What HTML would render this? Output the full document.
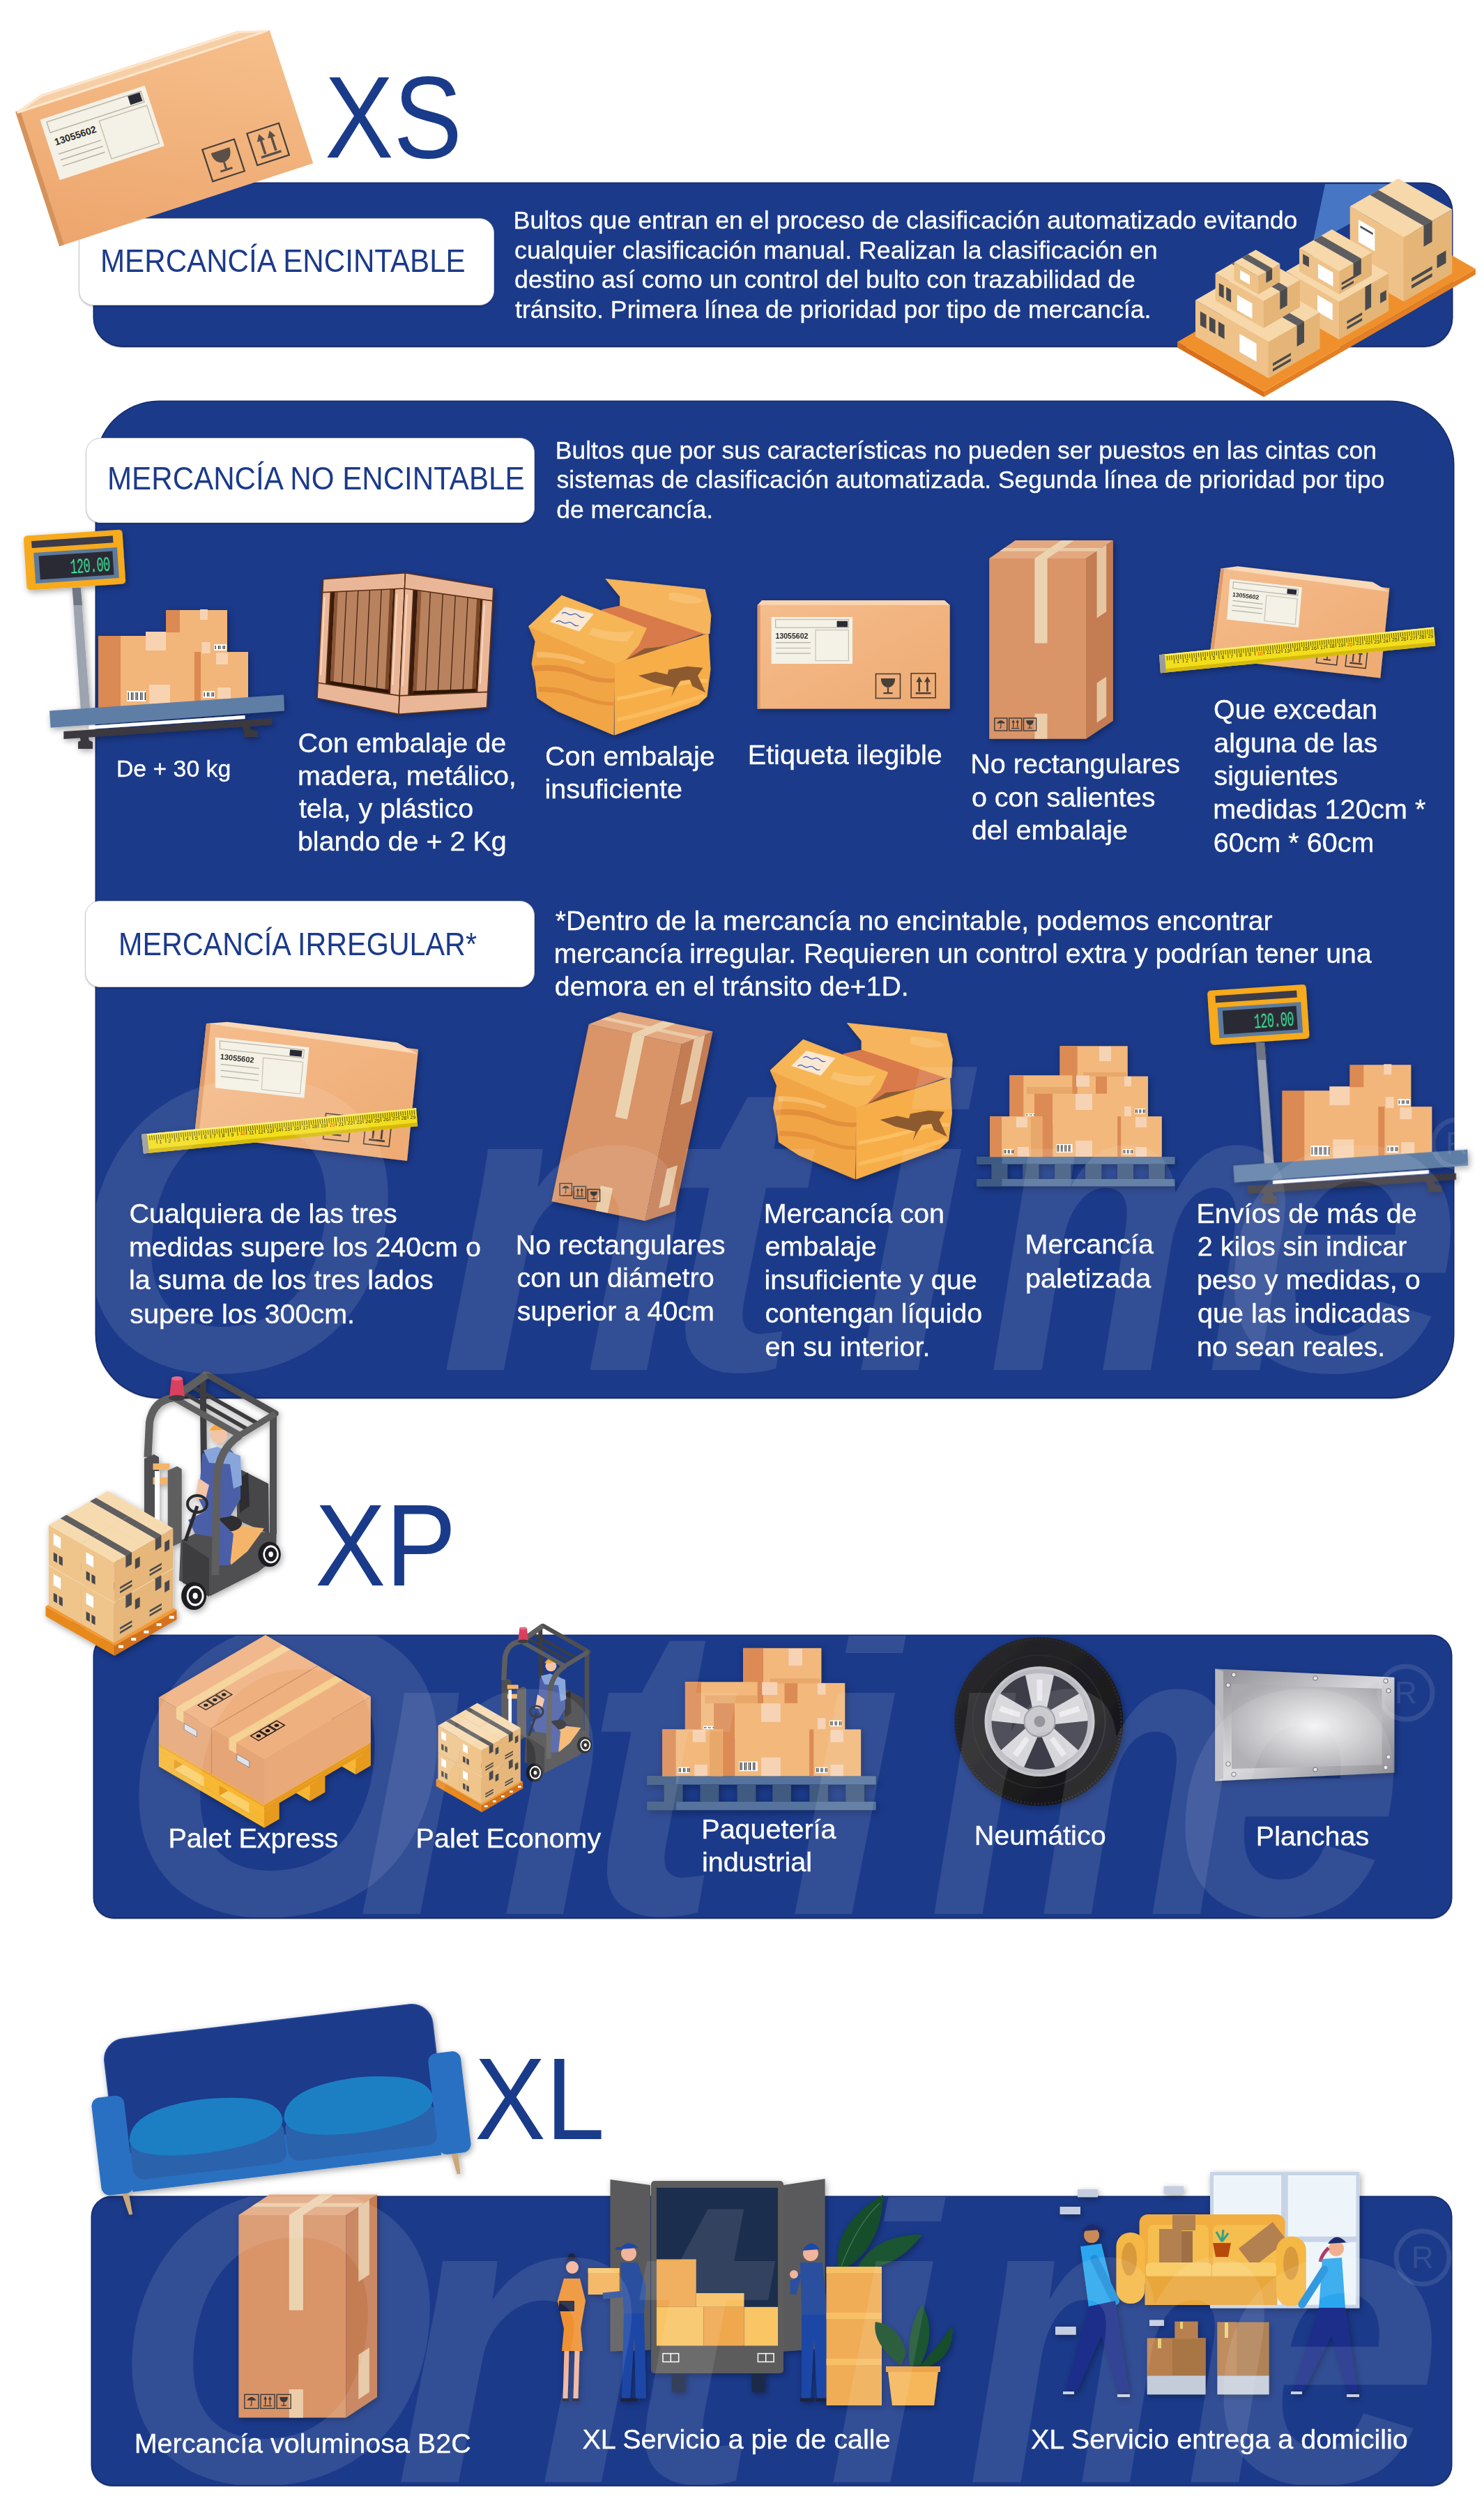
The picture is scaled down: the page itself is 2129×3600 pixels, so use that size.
<!DOCTYPE html>
<html><head><meta charset="utf-8"><style>
html,body{margin:0;padding:0;background:#fff;}
body{width:2129px;height:3600px;position:relative;overflow:hidden;font-family:"Liberation Sans",sans-serif;}
.t{position:absolute;white-space:nowrap;line-height:0;transform-origin:0 0;}
.w{-webkit-text-stroke:0.35px #fff;}
.panel{position:absolute;background:#1b3a8a;box-shadow:0 0 0 1.5px #14296a,0 1.5px 1.5px #0f1f4d;overflow:hidden}
.label{position:absolute;background:#fff;box-sizing:border-box;border:1.5px solid #c9c9c9;box-shadow:0 2px 2px rgba(0,0,0,.18)}
.a{position:absolute}
</style></head><body>
<div class="panel" style="left:135px;top:263px;width:1948px;height:233px;border-radius:40px;"></div>
<div class="panel" style="left:138px;top:576px;width:1947px;height:1428px;border-radius:90px;"></div>
<div class="panel" style="left:135px;top:2346px;width:1947px;height:404px;border-radius:28px;"></div>
<div class="panel" style="left:131.5px;top:3151px;width:1950.5px;height:413px;border-radius:28px;"></div>
<div class="label" style="left:113px;top:313px;width:596px;height:125px;border-radius:21px"></div>
<div class="label" style="left:122.6px;top:627.5px;width:644.9px;height:122.5px;border-radius:21px"></div>
<div class="label" style="left:122px;top:1292px;width:645px;height:124px;border-radius:21px"></div>
<svg class="a" style="left:0;top:0" width="2129" height="600" viewBox="0 0 2129 600">
<defs><linearGradient id="gA" x1="0" y1="1" x2="1" y2="0"><stop offset="0" stop-color="#eda56c"/><stop offset="1" stop-color="#f6bf8c"/></linearGradient></defs>
<g transform="translate(85.2,353.2) rotate(-18.1)">
<polygon points="0,-202 43,-215 339,-214 381,-200" fill="#f7cfa6"/>
<rect x="0" y="-201" width="383" height="201" fill="url(#gA)"/>
<rect x="0" y="-203" width="7" height="203" fill="#d4935d"/>
<polygon points="2,-201 43,-213 339,-212 379,-201" fill="none" stroke="#fde6cc" stroke-width="3"/>
<rect x="30" y="-181" width="158" height="91" fill="#f4f1e6"/>
<rect x="38" y="-175" width="142" height="16" fill="none" stroke="#bdb6a6" stroke-width="1.5"/>
<rect x="160" y="-174" width="18" height="13" fill="#2b2b36"/>
<rect x="110" y="-153" width="72" height="57" fill="none" stroke="#c9c2b2" stroke-width="1.5"/>
<text x="40" y="-139" font-family="Liberation Sans" font-weight="bold" font-size="14" fill="#2a2a2a">13055602</text>
<line x1="40" y1="-126" x2="104" y2="-126" stroke="#b5b0a5" stroke-width="1.5"/>
<line x1="40" y1="-117" x2="104" y2="-117" stroke="#b5b0a5" stroke-width="1.5"/>
<line x1="40" y1="-108" x2="104" y2="-108" stroke="#b5b0a5" stroke-width="1.5"/>
<rect x="238.0" y="-68.0" width="48" height="48" fill="none" stroke="#4a4038" stroke-width="2.2"/><path d="M248,-59 h28 q0,16 -14,18 q-14,-2 -14,-18z" fill="#5b5048"/><path d="M262,-41 v10 M253,-30 h18" stroke="#5b5048" stroke-width="3"/>
<rect x="306.0" y="-70.0" width="48" height="48" fill="none" stroke="#4a4038" stroke-width="2.2"/><path d="M322,-34 v-22 M338,-34 v-22 M315,-31 h30" stroke="#5b5048" stroke-width="3.5"/><path d="M316,-54 l6,-10 l6,10z M332,-54 l6,-10 l6,10z" fill="#5b5048"/>
</g>
<polygon points="1901,264 2010,264 1975,300 1883,350" fill="#4676c4"/>
<polygon points="1689.0,498.5 1813.0,569.6 1813.0,561.6 1689.0,490.5" fill="#d86f1a" /><polygon points="1813.0,569.6 2116.9,393.7 2116.9,385.7 1813.0,561.6" fill="#e57e22" /><polygon points="1689.0,490.5 1813.0,561.6 2116.9,385.7 1993.0,314.6" fill="#f0902c" />
<polygon points="1936.7,388.1 2013.9,432.4 2013.9,340.4 1936.7,296.1" fill="#eec288" /><polygon points="2013.9,432.4 2083.2,392.3 2083.2,300.3 2013.9,340.4" fill="#e4b577" /><polygon points="1936.7,296.1 2013.9,340.4 2083.2,300.3 2006.0,256.1" fill="#f6d8aa" />
<polygon points="1965.3,279.6 2042.5,323.8 2054.6,316.8 1977.4,272.6" fill="#5e5e60" /><polygon points="2042.5,323.8 2054.6,316.8 2054.6,346.8 2042.5,353.8" fill="#4b4b4d" />
<polygon points="1948.9,347.1 1972.3,360.5 1972.3,328.5 1948.9,315.1" fill="#ffffff" />
<polygon points="1951.5,323.6 1969.7,334.0 1969.7,337.0 1951.5,326.6" fill="#4a4a4c" />
<polygon points="2061.5,384.8 2074.5,377.3 2074.5,359.3 2061.5,366.8" fill="#4a4a4c" />
<polygon points="2025.1,413.9 2054.6,396.8 2054.6,391.8 2025.1,408.9" fill="#4a4a4c" />
<polygon points="2025.1,403.9 2054.6,386.8 2054.6,381.8 2025.1,398.9" fill="#4a4a4c" />
<polygon points="1844.9,443.2 1921.2,487.0 1921.2,433.0 1844.9,389.2" fill="#eec288" /><polygon points="1921.2,487.0 1992.2,445.9 1992.2,391.9 1921.2,433.0" fill="#e4b577" /><polygon points="1844.9,389.2 1921.2,433.0 1992.2,391.9 1915.9,348.2" fill="#f6d8aa" />
<polygon points="1958.5,411.4 1967.1,406.4 1967.1,440.4 1958.5,445.4" fill="#4a4a4c" />
<polygon points="1890.0,447.1 1911.7,459.5 1911.7,435.5 1890.0,423.1" fill="#ffffff" />
<polygon points="1980.1,434.9 1988.8,429.9 1988.8,415.9 1980.1,420.9" fill="#4a4a4c" />
<polygon points="1932.5,472.5 1954.1,459.9 1954.1,455.9 1932.5,468.5" fill="#4a4a4c" />
<polygon points="1932.5,464.5 1954.1,451.9 1954.1,447.9 1932.5,460.5" fill="#4a4a4c" />
<polygon points="1864.0,389.2 1921.2,422.0 1921.2,389.0 1864.0,356.2" fill="#eec288" /><polygon points="1921.2,422.0 1968.0,394.9 1968.0,361.9 1921.2,389.0" fill="#e4b577" /><polygon points="1864.0,356.2 1921.2,389.0 1968.0,361.9 1910.8,329.1" fill="#f6d8aa" />
<polygon points="1884.3,344.4 1941.6,377.2 1952.8,370.7 1895.6,337.9" fill="#5e5e60" /><polygon points="1941.6,377.2 1952.8,370.7 1952.8,392.7 1941.6,399.2" fill="#4b4b4d" />
<polygon points="1890.9,398.6 1912.5,411.0 1912.5,391.0 1890.9,378.6" fill="#ffffff" />
<polygon points="1869.2,378.2 1877.9,383.1 1877.9,369.1 1869.2,364.2" fill="#4a4a4c" />
<polygon points="1924.7,416.0 1942.0,406.0 1942.0,402.5 1924.7,412.5" fill="#4a4a4c" />
<polygon points="1924.7,409.0 1942.0,399.0 1942.0,395.5 1924.7,405.5" fill="#4a4a4c" />
<polygon points="1715.0,482.5 1819.9,542.6 1819.9,490.6 1715.0,430.5" fill="#eec288" /><polygon points="1819.9,542.6 1893.5,500.0 1893.5,448.0 1819.9,490.6" fill="#e4b577" /><polygon points="1715.0,430.5 1819.9,490.6 1893.5,448.0 1788.6,387.9" fill="#f6d8aa" />
<polygon points="1860.6,467.0 1871.0,461.0 1871.0,491.0 1860.6,497.0" fill="#4a4a4c" />
<polygon points="1827.6,448.2 1860.6,467.0 1871.0,461.0 1838.0,442.1" fill="#5e5e60" />
<polygon points="1778.3,504.7 1802.6,518.7 1802.6,492.7 1778.3,478.7" fill="#ffffff" />
<polygon points="1721.9,466.4 1730.6,471.4 1730.6,451.4 1721.9,446.4" fill="#4a4a4c" />
<polygon points="1734.9,473.9 1743.6,478.9 1743.6,458.9 1734.9,453.9" fill="#4a4a4c" />
<polygon points="1747.9,481.3 1756.6,486.3 1756.6,466.3 1747.9,461.3" fill="#4a4a4c" />
<polygon points="1826.0,533.1 1851.9,518.1 1851.9,514.1 1826.0,529.1" fill="#4a4a4c" />
<polygon points="1826.0,525.1 1851.9,510.1 1851.9,506.1 1826.0,521.1" fill="#4a4a4c" />
<polygon points="1743.6,430.9 1812.9,470.6 1812.9,431.6 1743.6,391.9" fill="#eec288" /><polygon points="1812.9,470.6 1864.9,440.6 1864.9,401.6 1812.9,431.6" fill="#e4b577" /><polygon points="1743.6,391.9 1812.9,431.6 1864.9,401.6 1795.5,361.8" fill="#f6d8aa" />
<polygon points="1767.0,378.4 1836.3,418.1 1846.7,412.1 1777.4,372.4" fill="#5e5e60" /><polygon points="1836.3,418.1 1846.7,412.1 1846.7,438.1 1836.3,444.1" fill="#4b4b4d" />
<polygon points="1774.8,444.8 1796.5,457.2 1796.5,435.2 1774.8,422.8" fill="#ffffff" />
<polygon points="1748.8,423.9 1755.7,427.8 1755.7,409.8 1748.8,405.9" fill="#4a4a4c" />
<polygon points="1759.2,429.8 1766.1,433.8 1766.1,415.8 1759.2,411.8" fill="#4a4a4c" />
<polygon points="1770.5,402.3 1805.1,422.2 1805.1,396.2 1770.5,376.3" fill="#eec288" /><polygon points="1805.1,422.2 1836.3,404.2 1836.3,378.2 1805.1,396.2" fill="#e4b577" /><polygon points="1770.5,376.3 1805.1,396.2 1836.3,378.2 1801.6,358.3" fill="#f6d8aa" />
<polygon points="1781.7,369.8 1816.4,389.7 1825.1,384.7 1790.4,364.8" fill="#5e5e60" /><polygon points="1816.4,389.7 1825.1,384.7 1825.1,400.7 1816.4,405.7" fill="#4b4b4d" />
<polygon points="1779.1,400.3 1793.0,408.2 1793.0,395.2 1779.1,387.3" fill="#ffffff" />
</svg>
<svg class="a" style="left:0;top:0" width="2129" height="2100" viewBox="0 0 2129 2100">
<defs>
<filter id="sh" x="-10%" y="-10%" width="130%" height="130%"><feGaussianBlur in="SourceAlpha" stdDeviation="5"/><feOffset dx="2" dy="3"/><feComponentTransfer><feFuncA type="linear" slope="0.35"/></feComponentTransfer><feMerge><feMergeNode/><feMergeNode in="SourceGraphic"/></feMerge></filter>
<linearGradient id="gbox" x1="0" y1="0" x2="1" y2="1"><stop offset="0" stop-color="#f5bd8d"/><stop offset="1" stop-color="#eeaa72"/></linearGradient>
<linearGradient id="gtire" x1="0" y1="0" x2="1" y2="1"><stop offset="0" stop-color="#2a2a2e"/><stop offset="1" stop-color="#121214"/></linearGradient>
</defs>
<g transform="translate(0,0)" filter="url(#sh)"><polygon points="103.6,843.0 115.7,843.0 129.2,1017.0 115.7,1017.0" fill="#9ea3b0" /><polygon points="103.6,843.0 115.7,843.0 118.0,868.0 106.0,868.0" fill="#6f7482" /><rect x="238" y="875" width="88" height="110" fill="#f2b57a"/><rect x="238" y="875" width="20" height="32" fill="#db8a52"/><rect x="141" y="912" width="145" height="104" fill="#f2b57a"/><rect x="141" y="912" width="32" height="104" fill="#db8a52"/><rect x="279" y="935" width="77" height="70" fill="#f2b57a"/><rect x="279" y="935" width="9" height="70" fill="#db8a52"/><rect x="209" y="906" width="29" height="27" fill="#f8d3b2"/><rect x="214" y="982" width="30" height="27" fill="#f8d3b2"/><rect x="287" y="874" width="11" height="15" fill="#f8d3b2"/><rect x="289.5" y="921" width="12" height="16" fill="#f8d3b2"/><rect x="310" y="936" width="17" height="17" fill="#f8d3b2"/><rect x="312" y="986" width="19" height="16" fill="#f8d3b2"/><rect x="182" y="991" width="27" height="15" fill="#fff"/><rect x="183.5" y="993" width="1.2" height="11" fill="#222"/><rect x="187.9" y="993" width="1.2" height="11" fill="#222"/><rect x="190.1" y="993" width="1.2" height="11" fill="#222"/><rect x="194.5" y="993" width="1.2" height="11" fill="#222"/><rect x="196.7" y="993" width="1.2" height="11" fill="#222"/><rect x="201.1" y="993" width="1.2" height="11" fill="#222"/><rect x="203.3" y="993" width="1.2" height="11" fill="#222"/><rect x="207.7" y="993" width="1.2" height="11" fill="#222"/><rect x="307" y="924" width="18" height="9" fill="#fff"/><rect x="308.5" y="926" width="1.2" height="5" fill="#222"/><rect x="312.9" y="926" width="1.2" height="5" fill="#222"/><rect x="315.1" y="926" width="1.2" height="5" fill="#222"/><rect x="319.5" y="926" width="1.2" height="5" fill="#222"/><rect x="321.7" y="926" width="1.2" height="5" fill="#222"/><rect x="291" y="991" width="17" height="10" fill="#fff"/><rect x="292.5" y="993" width="1.2" height="6" fill="#222"/><rect x="296.9" y="993" width="1.2" height="6" fill="#222"/><rect x="299.1" y="993" width="1.2" height="6" fill="#222"/><rect x="303.5" y="993" width="1.2" height="6" fill="#222"/><rect x="305.7" y="993" width="1.2" height="6" fill="#222"/><polygon points="71.0,1019.5 407.0,996.6 408.0,1019.5 72.6,1043.8" fill="#5e7ea6" /><polygon points="127.8,1041.0 351.5,1026.0 351.5,1031.0 127.8,1046.0" fill="#ffffff" /><polygon points="91.4,1049.0 390.6,1030.3 390.6,1039.8 91.4,1060.0" fill="#3b3841" /><polygon points="111.0,1050.0 125.0,1050.0 128.0,1062.0 133.0,1064.0 133.0,1074.0 112.0,1074.0 112.0,1064.0 116.0,1062.0" fill="#3b3841" /><polygon points="346.0,1036.0 358.0,1036.0 360.0,1046.0 370.0,1049.0 370.0,1057.0 350.0,1057.0 350.0,1049.0" fill="#3b3841" /><g transform="rotate(-3.8 108 803)"><rect x="36" y="764" width="142" height="78" rx="5" fill="#f6aa1c"/><rect x="47" y="772" width="117" height="10" fill="#3a3a48"/><rect x="49" y="789" width="120" height="44" fill="#5b7a9e"/><rect x="56" y="794" width="106" height="34" fill="#2c2c36"/><text x="0" y="0" text-anchor="end" font-family="Liberation Mono" font-size="30" fill="#3ee89b" transform="translate(157,822) scale(0.56,1)" style="letter-spacing:-1px">120.00</text></g></g>
<g filter="url(#sh)"><polygon points="463.6,830.8 581.5,821.7 572.0,1024.2 455.0,1001.5" fill="#3a1a0a" /><polygon points="480.3,848.7 564.0,844.8 556.9,993.3 473.8,980.3" fill="#b8825f" /><line x1="497.1" y1="847.9" x2="490.4" y2="982.9" stroke="#4a2412" stroke-width="1.3"/><line x1="513.8" y1="847.1" x2="507.0" y2="985.5" stroke="#4a2412" stroke-width="1.3"/><line x1="530.5" y1="846.4" x2="523.7" y2="988.1" stroke="#4a2412" stroke-width="1.3"/><line x1="547.2" y1="845.6" x2="540.3" y2="990.7" stroke="#4a2412" stroke-width="1.3"/><polygon points="480.3,848.7 485.0,848.5 478.5,981.1 473.8,980.3" fill="#8a5634" /><polygon points="559.3,845.0 564.0,844.8 556.9,993.3 552.2,992.6" fill="#7a4626" /><polygon points="473.9,976.8 557.1,989.3 556.8,995.3 473.7,982.1" fill="#2a1206" /><polygon points="462.7,847.9 474.5,847.3 467.7,982.9 456.0,981.0" fill="#e9b797" stroke="#5b2d17" stroke-width="1.6" stroke-linejoin="round"/><polygon points="566.4,842.7 580.6,842.0 573.1,999.9 559.1,997.6" fill="#e9b797" stroke="#5b2d17" stroke-width="1.6" stroke-linejoin="round"/><polygon points="463.6,830.8 581.5,821.7 580.5,844.0 462.7,849.6" fill="#e9b797" stroke="#5b2d17" stroke-width="1.6" stroke-linejoin="round"/><polygon points="456.1,979.3 573.2,997.9 572.0,1024.2 455.0,1001.5" fill="#e9b797" stroke="#5b2d17" stroke-width="1.6" stroke-linejoin="round"/><line x1="465.8" y1="856.3" x2="460.2" y2="967.9" stroke="#fbe0cc" stroke-width="1.5"/><line x1="569.5" y1="852.5" x2="563.4" y2="982.2" stroke="#fbe0cc" stroke-width="1.5"/><polygon points="581.5,821.7 707.9,843.0 698.5,1014.7 572.0,1024.2" fill="#3a1a0a" /><polygon points="599.4,846.7 689.2,859.4 682.1,991.4 592.3,995.1" fill="#b8825f" /><line x1="617.4" y1="849.2" x2="610.3" y2="994.3" stroke="#4a2412" stroke-width="1.3"/><line x1="635.3" y1="851.7" x2="628.2" y2="993.6" stroke="#4a2412" stroke-width="1.3"/><line x1="653.3" y1="854.3" x2="646.2" y2="992.9" stroke="#4a2412" stroke-width="1.3"/><line x1="671.2" y1="856.8" x2="664.1" y2="992.1" stroke="#4a2412" stroke-width="1.3"/><polygon points="599.4,846.7 604.5,847.4 597.4,994.9 592.3,995.1" fill="#8a5634" /><polygon points="684.1,858.7 689.2,859.4 682.1,991.4 677.0,991.6" fill="#7a4626" /><polygon points="592.5,991.1 682.3,987.9 682.0,993.1 592.2,997.1" fill="#2a1206" /><polygon points="580.6,842.0 593.2,843.8 585.8,999.3 573.1,999.9" fill="#e9b797" stroke="#5b2d17" stroke-width="1.6" stroke-linejoin="round"/><polygon points="691.8,858.0 707.0,860.2 699.6,994.1 684.4,994.8" fill="#e9b797" stroke="#5b2d17" stroke-width="1.6" stroke-linejoin="round"/><polygon points="581.5,821.7 707.9,843.0 706.9,861.9 580.5,844.0" fill="#e9b797" stroke="#5b2d17" stroke-width="1.6" stroke-linejoin="round"/><polygon points="573.2,997.9 699.7,992.4 698.5,1014.7 572.0,1024.2" fill="#e9b797" stroke="#5b2d17" stroke-width="1.6" stroke-linejoin="round"/><line x1="583.9" y1="852.6" x2="577.7" y2="983.6" stroke="#fbe0cc" stroke-width="1.5"/><line x1="695.1" y1="867.3" x2="689.0" y2="980.7" stroke="#fbe0cc" stroke-width="1.5"/></g>
<g transform="translate(0,0)" filter="url(#sh)"><polygon points="868.9,830.4 1011.3,845.5 1019.8,882.3 1017.9,908.7 938.7,912.0 889.6,869.0 889.6,855.8" fill="#f6b55c" stroke="#f6b55c" stroke-linejoin="round" stroke-width="0.8"/><path d="M960,850 q30,0 50,12 q-20,8 -50,-2z" fill="#f9c67a" opacity="0.7"/><polygon points="863.2,874.7 889.6,869.0 1008.5,908.7 938.7,933.2 897.2,946.4" fill="#d97a4b" stroke="#d97a4b" stroke-linejoin="round" stroke-width="0.8"/><polygon points="900.0,945.0 925.0,930.0 945.0,928.0 960.0,925.0 905.0,950.0" fill="#8a5a30" /><polygon points="758.5,898.3 882.0,952.0 880.2,1054.0 800.0,1020.0 770.8,1001.0 768.0,975.0 763.0,952.0 768.0,920.0" fill="#f2a545" stroke="#f2a545" stroke-linejoin="round" stroke-width="0.8"/><polygon points="882.0,952.0 1016.0,908.7 1019.0,960.0 1014.0,999.0 1002.0,1010.0 882.0,1054.0" fill="#f7ae4a" stroke="#f7ae4a" stroke-linejoin="round" stroke-width="0.8"/><path d="M766,955 q40,-5 70,10 q25,10 46,8 l0,6 q-25,2 -48,-8 q-30,-12 -68,-8z" fill="#e08a38" opacity="0.8"/><path d="M772,985 q40,0 62,12 q25,10 48,10 l0,5 q-25,0 -50,-10 q-25,-10 -60,-10z" fill="#e08a38" opacity="0.7"/><path d="M770,935 q40,0 70,14 l-4,4 q-35,-12 -66,-10z" fill="#f8c070" opacity="0.8"/><path d="M885,1000 q50,-10 90,-22 q25,-6 40,-4 l0,5 q-20,-1 -45,6 q-40,12 -85,20z" fill="#fbc46a" opacity="0.8"/><path d="M885,1030 q60,-15 125,-35 l2,5 q-60,22 -127,35z" fill="#fbc46a" opacity="0.6"/><polygon points="758.5,898.3 805.7,854.0 927.4,901.1 916.0,925.7 897.2,946.4 882.0,952.0" fill="#f6b657" stroke="#f6b657" stroke-linejoin="round" stroke-width="0.8"/><path d="M850,900 q30,10 60,5 l-10,15 q-30,0 -55,-10z" fill="#f9c77a" opacity="0.7"/><polygon points="916.0,969.0 940.6,963.4 957.5,967.2 959.4,960.6 985.8,955.8 1008.5,957.7 1001.0,969.0 1012.3,993.6 993.4,984.2 989.6,974.7 976.4,976.6 968.9,987.9 963.2,999.2 967.0,986.0 936.8,978.5" fill="#8c5a2e" /><polygon points="788.7,891.7 810.4,870.0 851.9,880.4 831.1,905.8" fill="#fbe8d2" /><path d="M806,880 q4,-3 8,0 t8,1 t8,2 t8,2 M798,892 q4,-3 8,0 t8,1 t8,2 t8,2" fill="none" stroke="#3b63b8" stroke-width="1.3"/></g>
<g filter="url(#sh)"><polygon points="1093.0,861.0 1355.0,861.0 1362.7,868.0 1086.7,868.0" fill="#f8d5b0" /><rect x="1086.7" y="867.8" width="276" height="148.8" fill="url(#gbox)"/><rect x="1086.7" y="867.8" width="4" height="148.8" fill="#dd9a66"/><rect x="1106.6" y="885" width="116.4" height="67" fill="#f4f1e6"/><rect x="1112.6" y="888.5" width="104.8" height="11.6" fill="none" stroke="#bdb6a6" stroke-width="1.2"/><rect x="1200.6" y="890.7" width="15.4" height="8.6" fill="#2b2b36"/><rect x="1170" y="903.6" width="47.4" height="44" fill="none" stroke="#c9c2b2" stroke-width="1.2"/><text x="1112.6" y="915.5" font-family="Liberation Sans" font-weight="bold" font-size="10.5" fill="#2a2a2a">13055602</text><line x1="1113" y1="921.7" x2="1163" y2="921.7" stroke="#b5b0a5" stroke-width="1.2"/><line x1="1113" y1="929.5" x2="1163" y2="929.5" stroke="#b5b0a5" stroke-width="1.2"/><line x1="1113" y1="937.2" x2="1163" y2="937.2" stroke="#b5b0a5" stroke-width="1.2"/><g transform="translate(1274,984) scale(0.7291666666666666)"><rect x="-24" y="-24" width="48" height="48" fill="none" stroke="#4a4038" stroke-width="2.19"/><path d="M-14,-15 h28 q0,16 -14,18 q-14,-2 -14,-18z" fill="#4a4038"/><path d="M0,3 v10 M-9,14 h18" stroke="#4a4038" stroke-width="3"/></g><g transform="translate(1324.6,983.3) scale(0.7291666666666666)"><rect x="-24" y="-24" width="48" height="48" fill="none" stroke="#4a4038" stroke-width="2.19"/><path d="M-8,12 v-20 M8,12 v-20 M-15,15 h30" stroke="#4a4038" stroke-width="3.5"/><path d="M-14,-7 l6,-11 l6,11z M2,-7 l6,-11 l6,11z" fill="#4a4038"/></g></g>
<g filter="url(#sh)"><polygon points="1419.2,801.0 1558.0,801.0 1558.0,1059.7 1419.2,1059.7" fill="#d99468" /><polygon points="1558.0,801.0 1596.9,775.1 1596.9,1033.8 1558.0,1059.7" fill="#c47b52" /><polygon points="1456.7,775.1 1596.9,775.1 1558.0,801.0 1419.2,801.0" fill="#e3a880" /><polygon points="1484.4,801.0 1502.5,801.0 1502.5,922.6 1484.4,922.6" fill="#ecd3b0" /><polygon points="1484.4,1023.5 1502.5,1023.5 1502.5,1059.7 1484.4,1059.7" fill="#ecd3b0" opacity="0.9"/><polygon points="1522.6,775.1 1540.8,775.1 1502.5,801.0 1484.4,801.0" fill="#ecd3b0" /><polygon points="1441.0,786.0 1580.6,786.0 1573.6,790.6 1434.2,790.6" fill="#ecd3b0" opacity="0.8"/><polygon points="1573.6,790.6 1587.2,781.6 1587.2,877.3 1573.6,886.4" fill="#ecd3b0" opacity="0.85"/><polygon points="1573.6,979.5 1587.2,970.4 1587.2,1027.3 1573.6,1036.4" fill="#ecd3b0" opacity="0.85"/><g transform="translate(1435.856,1039.0040000000001) scale(0.3759166666666665)"><rect x="-24" y="-24" width="48" height="48" fill="none" stroke="#3a3a3a" stroke-width="3.72"/><path d="M-16,-4 q16,-22 32,0z" fill="#3a3a3a"/><path d="M0,-4 v14 q0,5 -5,3" fill="none" stroke="#3a3a3a" stroke-width="3"/></g><g transform="translate(1456.6760000000002,1039.0040000000001) scale(0.3759166666666665)"><rect x="-24" y="-24" width="48" height="48" fill="none" stroke="#3a3a3a" stroke-width="3.72"/><path d="M-8,12 v-20 M8,12 v-20 M-15,15 h30" stroke="#3a3a3a" stroke-width="3.5"/><path d="M-14,-7 l6,-11 l6,11z M2,-7 l6,-11 l6,11z" fill="#3a3a3a"/></g><g transform="translate(1477.496,1039.0040000000001) scale(0.3759166666666665)"><rect x="-24" y="-24" width="48" height="48" fill="none" stroke="#3a3a3a" stroke-width="3.72"/><path d="M-14,-15 h28 q0,16 -14,18 q-14,-2 -14,-18z" fill="#3a3a3a"/><path d="M0,3 v10 M-9,14 h18" stroke="#3a3a3a" stroke-width="3"/></g></g>
<g filter="url(#sh)"><polygon points="1751.4,815.5 1993.4,843.6 1980.3,972.6 1735.0,944.0" fill="url(#gbox)" /><polygon points="1751.4,815.5 1775.6,812.3 1969.2,834.8 1992.9,848.8" fill="#f9d9b8" /><polygon points="1751.4,815.5 1756.2,816.1 1739.9,944.6 1735.0,944.0" fill="#dc9a67" /><polygon points="1764.5,830.6 1867.9,842.2 1863.0,900.1 1760.1,888.5" fill="#f4f1e6" /><polygon points="1769.4,834.7 1862.4,845.1 1861.7,854.4 1768.7,843.9" fill="none" stroke="#bdb6a6" stroke-width="1.2"/><polygon points="1846.8,844.5 1860.3,846.0 1859.7,853.0 1846.3,851.5" fill="#2b2b36" /><polygon points="1816.9,854.0 1861.3,859.0 1858.2,895.5 1813.9,890.5" fill="none" stroke="#c9c2b2" stroke-width="1.2"/><line x1="1768.4" y1="861.4" x2="1811.7" y2="866.3" stroke="#b5b0a5" stroke-width="1.2"/><line x1="1767.9" y1="868.4" x2="1811.2" y2="873.2" stroke="#b5b0a5" stroke-width="1.2"/><line x1="1767.3" y1="875.3" x2="1810.6" y2="880.2" stroke="#b5b0a5" stroke-width="1.2"/><text x="0" y="0" transform="translate(1767.8,855.5) rotate(6.41)" font-family="Liberation Sans" font-weight="bold" font-size="8.6" fill="#2a2a2a">13055602</text><g transform="rotate(6.4 1904.6 937.7)"><g transform="translate(1904.6352000000002,937.6800000000001) scale(0.6090649082815394)"><rect x="-24" y="-24" width="48" height="48" fill="none" stroke="#4a4038" stroke-width="2.63"/><path d="M-14,-15 h28 q0,16 -14,18 q-14,-2 -14,-18z" fill="#4a4038"/><path d="M0,3 v10 M-9,14 h18" stroke="#4a4038" stroke-width="3"/></g></g><g transform="rotate(6.4 1946.2 942.5)"><g transform="translate(1946.2240000000002,942.5250000000001) scale(0.6090649082815394)"><rect x="-24" y="-24" width="48" height="48" fill="none" stroke="#4a4038" stroke-width="2.63"/><path d="M-8,12 v-20 M8,12 v-20 M-15,15 h30" stroke="#4a4038" stroke-width="3.5"/><path d="M-14,-7 l6,-11 l6,11z M2,-7 l6,-11 l6,11z" fill="#4a4038"/></g></g><polygon points="1663.0,939.2 2057.1,899.5 2059.2,926.2 1665.0,965.3" fill="#f2de1e" /><polygon points="1664.6,960.1 2058.8,920.9 2059.2,926.2 1665.0,965.3" fill="#d6b90d" /><polygon points="1663.0,939.2 2057.1,899.5 2057.3,901.6 1663.2,941.3" fill="#fff27a" /><polygon points="1663.0,939.2 1670.9,938.4 1672.9,964.5 1665.0,965.3" fill="#9a9a9a" /><line x1="1674.3" y1="940.7" x2="1674.8" y2="947.2" stroke="#3a3200" stroke-width="0.8"/><line x1="1677.5" y1="940.4" x2="1678.0" y2="946.9" stroke="#3a3200" stroke-width="0.8"/><line x1="1680.7" y1="940.0" x2="1681.2" y2="946.6" stroke="#3a3200" stroke-width="0.8"/><line x1="1684.0" y1="939.7" x2="1684.9" y2="951.5" stroke="#3a3200" stroke-width="0.8"/><line x1="1687.2" y1="939.4" x2="1687.7" y2="945.9" stroke="#3a3200" stroke-width="0.8"/><line x1="1690.4" y1="939.1" x2="1690.9" y2="945.6" stroke="#3a3200" stroke-width="0.8"/><line x1="1693.6" y1="938.8" x2="1694.1" y2="945.3" stroke="#3a3200" stroke-width="0.8"/><line x1="1696.8" y1="938.4" x2="1697.7" y2="950.2" stroke="#3a3200" stroke-width="0.8"/><line x1="1700.0" y1="938.1" x2="1700.6" y2="944.6" stroke="#3a3200" stroke-width="0.8"/><line x1="1703.3" y1="937.8" x2="1703.8" y2="944.3" stroke="#3a3200" stroke-width="0.8"/><line x1="1706.5" y1="937.5" x2="1707.0" y2="944.0" stroke="#3a3200" stroke-width="0.8"/><line x1="1709.7" y1="937.1" x2="1710.6" y2="948.9" stroke="#3a3200" stroke-width="0.8"/><line x1="1712.9" y1="936.8" x2="1713.4" y2="943.4" stroke="#3a3200" stroke-width="0.8"/><line x1="1716.1" y1="936.5" x2="1716.6" y2="943.0" stroke="#3a3200" stroke-width="0.8"/><line x1="1719.4" y1="936.2" x2="1719.9" y2="942.7" stroke="#3a3200" stroke-width="0.8"/><line x1="1722.6" y1="935.8" x2="1723.5" y2="947.6" stroke="#3a3200" stroke-width="0.8"/><line x1="1725.8" y1="935.5" x2="1726.3" y2="942.1" stroke="#3a3200" stroke-width="0.8"/><line x1="1729.0" y1="935.2" x2="1729.5" y2="941.7" stroke="#3a3200" stroke-width="0.8"/><line x1="1732.2" y1="934.9" x2="1732.7" y2="941.4" stroke="#3a3200" stroke-width="0.8"/><line x1="1735.5" y1="934.5" x2="1736.4" y2="946.3" stroke="#3a3200" stroke-width="0.8"/><line x1="1738.7" y1="934.2" x2="1739.2" y2="940.8" stroke="#3a3200" stroke-width="0.8"/><line x1="1741.9" y1="933.9" x2="1742.4" y2="940.5" stroke="#3a3200" stroke-width="0.8"/><line x1="1745.1" y1="933.6" x2="1745.6" y2="940.1" stroke="#3a3200" stroke-width="0.8"/><line x1="1748.3" y1="933.2" x2="1749.2" y2="945.1" stroke="#3a3200" stroke-width="0.8"/><line x1="1751.5" y1="932.9" x2="1752.1" y2="939.5" stroke="#3a3200" stroke-width="0.8"/><line x1="1754.8" y1="932.6" x2="1755.3" y2="939.2" stroke="#3a3200" stroke-width="0.8"/><line x1="1758.0" y1="932.3" x2="1758.5" y2="938.8" stroke="#3a3200" stroke-width="0.8"/><line x1="1761.2" y1="932.0" x2="1762.1" y2="943.8" stroke="#3a3200" stroke-width="0.8"/><line x1="1764.4" y1="931.6" x2="1764.9" y2="938.2" stroke="#3a3200" stroke-width="0.8"/><line x1="1767.6" y1="931.3" x2="1768.1" y2="937.9" stroke="#3a3200" stroke-width="0.8"/><line x1="1770.9" y1="931.0" x2="1771.4" y2="937.5" stroke="#3a3200" stroke-width="0.8"/><line x1="1774.1" y1="930.7" x2="1775.0" y2="942.5" stroke="#3a3200" stroke-width="0.8"/><line x1="1777.3" y1="930.3" x2="1777.8" y2="936.9" stroke="#3a3200" stroke-width="0.8"/><line x1="1780.5" y1="930.0" x2="1781.0" y2="936.6" stroke="#3a3200" stroke-width="0.8"/><line x1="1783.7" y1="929.7" x2="1784.2" y2="936.3" stroke="#3a3200" stroke-width="0.8"/><line x1="1787.0" y1="929.4" x2="1787.9" y2="941.2" stroke="#3a3200" stroke-width="0.8"/><line x1="1790.2" y1="929.0" x2="1790.7" y2="935.6" stroke="#3a3200" stroke-width="0.8"/><line x1="1793.4" y1="928.7" x2="1793.9" y2="935.3" stroke="#3a3200" stroke-width="0.8"/><line x1="1796.6" y1="928.4" x2="1797.1" y2="935.0" stroke="#3a3200" stroke-width="0.8"/><line x1="1799.8" y1="928.1" x2="1800.7" y2="939.9" stroke="#3a3200" stroke-width="0.8"/><line x1="1803.0" y1="927.7" x2="1803.6" y2="934.3" stroke="#3a3200" stroke-width="0.8"/><line x1="1806.3" y1="927.4" x2="1806.8" y2="934.0" stroke="#3a3200" stroke-width="0.8"/><line x1="1809.5" y1="927.1" x2="1810.0" y2="933.7" stroke="#3a3200" stroke-width="0.8"/><line x1="1812.7" y1="926.8" x2="1813.6" y2="938.6" stroke="#3a3200" stroke-width="0.8"/><line x1="1815.9" y1="926.4" x2="1816.4" y2="933.0" stroke="#3a3200" stroke-width="0.8"/><line x1="1819.1" y1="926.1" x2="1819.6" y2="932.7" stroke="#3a3200" stroke-width="0.8"/><line x1="1822.4" y1="925.8" x2="1822.9" y2="932.4" stroke="#3a3200" stroke-width="0.8"/><line x1="1825.6" y1="925.5" x2="1826.5" y2="937.3" stroke="#3a3200" stroke-width="0.8"/><line x1="1828.8" y1="925.2" x2="1829.3" y2="931.7" stroke="#3a3200" stroke-width="0.8"/><line x1="1832.0" y1="924.8" x2="1832.5" y2="931.4" stroke="#3a3200" stroke-width="0.8"/><line x1="1835.2" y1="924.5" x2="1835.7" y2="931.1" stroke="#3a3200" stroke-width="0.8"/><line x1="1838.4" y1="924.2" x2="1839.4" y2="936.0" stroke="#3a3200" stroke-width="0.8"/><line x1="1841.7" y1="923.9" x2="1842.2" y2="930.5" stroke="#3a3200" stroke-width="0.8"/><line x1="1844.9" y1="923.5" x2="1845.4" y2="930.1" stroke="#3a3200" stroke-width="0.8"/><line x1="1848.1" y1="923.2" x2="1848.6" y2="929.8" stroke="#3a3200" stroke-width="0.8"/><line x1="1851.3" y1="922.9" x2="1852.2" y2="934.8" stroke="#3a3200" stroke-width="0.8"/><line x1="1854.5" y1="922.6" x2="1855.1" y2="929.2" stroke="#3a3200" stroke-width="0.8"/><line x1="1857.8" y1="922.2" x2="1858.3" y2="928.8" stroke="#3a3200" stroke-width="0.8"/><line x1="1861.0" y1="921.9" x2="1861.5" y2="928.5" stroke="#3a3200" stroke-width="0.8"/><line x1="1864.2" y1="921.6" x2="1865.1" y2="933.5" stroke="#3a3200" stroke-width="0.8"/><line x1="1867.4" y1="921.3" x2="1867.9" y2="927.9" stroke="#3a3200" stroke-width="0.8"/><line x1="1870.6" y1="920.9" x2="1871.1" y2="927.6" stroke="#3a3200" stroke-width="0.8"/><line x1="1873.9" y1="920.6" x2="1874.4" y2="927.2" stroke="#3a3200" stroke-width="0.8"/><line x1="1877.1" y1="920.3" x2="1878.0" y2="932.2" stroke="#3a3200" stroke-width="0.8"/><line x1="1880.3" y1="920.0" x2="1880.8" y2="926.6" stroke="#3a3200" stroke-width="0.8"/><line x1="1883.5" y1="919.7" x2="1884.0" y2="926.3" stroke="#3a3200" stroke-width="0.8"/><line x1="1886.7" y1="919.3" x2="1887.2" y2="925.9" stroke="#3a3200" stroke-width="0.8"/><line x1="1889.9" y1="919.0" x2="1890.9" y2="930.9" stroke="#3a3200" stroke-width="0.8"/><line x1="1893.2" y1="918.7" x2="1893.7" y2="925.3" stroke="#3a3200" stroke-width="0.8"/><line x1="1896.4" y1="918.4" x2="1896.9" y2="925.0" stroke="#3a3200" stroke-width="0.8"/><line x1="1899.6" y1="918.0" x2="1900.1" y2="924.6" stroke="#3a3200" stroke-width="0.8"/><line x1="1902.8" y1="917.7" x2="1903.7" y2="929.6" stroke="#3a3200" stroke-width="0.8"/><line x1="1906.0" y1="917.4" x2="1906.6" y2="924.0" stroke="#3a3200" stroke-width="0.8"/><line x1="1909.3" y1="917.1" x2="1909.8" y2="923.7" stroke="#3a3200" stroke-width="0.8"/><line x1="1912.5" y1="916.7" x2="1913.0" y2="923.4" stroke="#3a3200" stroke-width="0.8"/><line x1="1915.7" y1="916.4" x2="1916.6" y2="928.3" stroke="#3a3200" stroke-width="0.8"/><line x1="1918.9" y1="916.1" x2="1919.4" y2="922.7" stroke="#3a3200" stroke-width="0.8"/><line x1="1922.1" y1="915.8" x2="1922.6" y2="922.4" stroke="#3a3200" stroke-width="0.8"/><line x1="1925.3" y1="915.4" x2="1925.9" y2="922.1" stroke="#3a3200" stroke-width="0.8"/><line x1="1928.6" y1="915.1" x2="1929.5" y2="927.0" stroke="#3a3200" stroke-width="0.8"/><line x1="1931.8" y1="914.8" x2="1932.3" y2="921.4" stroke="#3a3200" stroke-width="0.8"/><line x1="1935.0" y1="914.5" x2="1935.5" y2="921.1" stroke="#3a3200" stroke-width="0.8"/><line x1="1938.2" y1="914.1" x2="1938.7" y2="920.8" stroke="#3a3200" stroke-width="0.8"/><line x1="1941.4" y1="913.8" x2="1942.4" y2="925.8" stroke="#3a3200" stroke-width="0.8"/><line x1="1944.7" y1="913.5" x2="1945.2" y2="920.1" stroke="#3a3200" stroke-width="0.8"/><line x1="1947.9" y1="913.2" x2="1948.4" y2="919.8" stroke="#3a3200" stroke-width="0.8"/><line x1="1951.1" y1="912.9" x2="1951.6" y2="919.5" stroke="#3a3200" stroke-width="0.8"/><line x1="1954.3" y1="912.5" x2="1955.2" y2="924.5" stroke="#3a3200" stroke-width="0.8"/><line x1="1957.5" y1="912.2" x2="1958.1" y2="918.8" stroke="#3a3200" stroke-width="0.8"/><line x1="1960.8" y1="911.9" x2="1961.3" y2="918.5" stroke="#3a3200" stroke-width="0.8"/><line x1="1964.0" y1="911.6" x2="1964.5" y2="918.2" stroke="#3a3200" stroke-width="0.8"/><line x1="1967.2" y1="911.2" x2="1968.1" y2="923.2" stroke="#3a3200" stroke-width="0.8"/><line x1="1970.4" y1="910.9" x2="1970.9" y2="917.6" stroke="#3a3200" stroke-width="0.8"/><line x1="1973.6" y1="910.6" x2="1974.1" y2="917.2" stroke="#3a3200" stroke-width="0.8"/><line x1="1976.8" y1="910.3" x2="1977.4" y2="916.9" stroke="#3a3200" stroke-width="0.8"/><line x1="1980.1" y1="909.9" x2="1981.0" y2="921.9" stroke="#3a3200" stroke-width="0.8"/><line x1="1983.3" y1="909.6" x2="1983.8" y2="916.3" stroke="#3a3200" stroke-width="0.8"/><line x1="1986.5" y1="909.3" x2="1987.0" y2="915.9" stroke="#3a3200" stroke-width="0.8"/><line x1="1989.7" y1="909.0" x2="1990.2" y2="915.6" stroke="#3a3200" stroke-width="0.8"/><line x1="1992.9" y1="908.6" x2="1993.9" y2="920.6" stroke="#3a3200" stroke-width="0.8"/><line x1="1996.2" y1="908.3" x2="1996.7" y2="915.0" stroke="#3a3200" stroke-width="0.8"/><line x1="1999.4" y1="908.0" x2="1999.9" y2="914.7" stroke="#3a3200" stroke-width="0.8"/><line x1="2002.6" y1="907.7" x2="2003.1" y2="914.3" stroke="#3a3200" stroke-width="0.8"/><line x1="2005.8" y1="907.3" x2="2006.8" y2="919.3" stroke="#3a3200" stroke-width="0.8"/><line x1="2009.0" y1="907.0" x2="2009.6" y2="913.7" stroke="#3a3200" stroke-width="0.8"/><line x1="2012.3" y1="906.7" x2="2012.8" y2="913.4" stroke="#3a3200" stroke-width="0.8"/><line x1="2015.5" y1="906.4" x2="2016.0" y2="913.0" stroke="#3a3200" stroke-width="0.8"/><line x1="2018.7" y1="906.1" x2="2019.6" y2="918.0" stroke="#3a3200" stroke-width="0.8"/><line x1="2021.9" y1="905.7" x2="2022.4" y2="912.4" stroke="#3a3200" stroke-width="0.8"/><line x1="2025.1" y1="905.4" x2="2025.6" y2="912.1" stroke="#3a3200" stroke-width="0.8"/><line x1="2028.3" y1="905.1" x2="2028.9" y2="911.7" stroke="#3a3200" stroke-width="0.8"/><line x1="2031.6" y1="904.8" x2="2032.5" y2="916.8" stroke="#3a3200" stroke-width="0.8"/><line x1="2034.8" y1="904.4" x2="2035.3" y2="911.1" stroke="#3a3200" stroke-width="0.8"/><line x1="2038.0" y1="904.1" x2="2038.5" y2="910.8" stroke="#3a3200" stroke-width="0.8"/><line x1="2041.2" y1="903.8" x2="2041.7" y2="910.5" stroke="#3a3200" stroke-width="0.8"/><line x1="2044.4" y1="903.5" x2="2045.4" y2="915.5" stroke="#3a3200" stroke-width="0.8"/><line x1="2047.7" y1="903.1" x2="2048.2" y2="909.8" stroke="#3a3200" stroke-width="0.8"/><line x1="2050.9" y1="902.8" x2="2051.4" y2="909.5" stroke="#3a3200" stroke-width="0.8"/><line x1="2054.1" y1="902.5" x2="2054.6" y2="909.2" stroke="#3a3200" stroke-width="0.8"/><text x="1688.0" y="951.2" font-family="Liberation Sans" font-size="7" fill="#3a3200">1</text><text x="1700.9" y="949.9" font-family="Liberation Sans" font-size="7" fill="#3a3200">2</text><text x="1713.8" y="948.6" font-family="Liberation Sans" font-size="7" fill="#3a3200">3</text><text x="1726.6" y="947.3" font-family="Liberation Sans" font-size="7" fill="#3a3200">4</text><text x="1739.5" y="946.0" font-family="Liberation Sans" font-size="7" fill="#3a3200">5</text><text x="1752.4" y="944.7" font-family="Liberation Sans" font-size="7" fill="#3a3200">6</text><text x="1765.3" y="943.5" font-family="Liberation Sans" font-size="7" fill="#3a3200">7</text><text x="1778.1" y="942.2" font-family="Liberation Sans" font-size="7" fill="#3a3200">8</text><text x="1791.0" y="940.9" font-family="Liberation Sans" font-size="7" fill="#3a3200">9</text><text x="1803.9" y="939.6" font-family="Liberation Sans" font-size="7" fill="#e2301a">10</text><text x="1816.8" y="938.3" font-family="Liberation Sans" font-size="7" fill="#3a3200">11</text><text x="1829.6" y="937.0" font-family="Liberation Sans" font-size="7" fill="#3a3200">12</text><text x="1842.5" y="935.7" font-family="Liberation Sans" font-size="7" fill="#3a3200">13</text><text x="1855.4" y="934.4" font-family="Liberation Sans" font-size="7" fill="#3a3200">14</text><text x="1868.3" y="933.2" font-family="Liberation Sans" font-size="7" fill="#3a3200">15</text><text x="1881.1" y="931.9" font-family="Liberation Sans" font-size="7" fill="#3a3200">16</text><text x="1894.0" y="930.6" font-family="Liberation Sans" font-size="7" fill="#3a3200">17</text><text x="1906.9" y="929.3" font-family="Liberation Sans" font-size="7" fill="#3a3200">18</text><text x="1919.8" y="928.0" font-family="Liberation Sans" font-size="7" fill="#3a3200">19</text><text x="1932.7" y="926.7" font-family="Liberation Sans" font-size="7" fill="#e2301a">20</text><text x="1945.5" y="925.4" font-family="Liberation Sans" font-size="7" fill="#3a3200">21</text><text x="1958.4" y="924.2" font-family="Liberation Sans" font-size="7" fill="#3a3200">22</text><text x="1971.3" y="922.9" font-family="Liberation Sans" font-size="7" fill="#3a3200">23</text><text x="1984.2" y="921.6" font-family="Liberation Sans" font-size="7" fill="#3a3200">24</text><text x="1997.0" y="920.3" font-family="Liberation Sans" font-size="7" fill="#3a3200">25</text><text x="2009.9" y="919.0" font-family="Liberation Sans" font-size="7" fill="#3a3200">26</text><text x="2022.8" y="917.7" font-family="Liberation Sans" font-size="7" fill="#3a3200">27</text><text x="2035.7" y="916.4" font-family="Liberation Sans" font-size="7" fill="#3a3200">28</text><text x="2048.5" y="915.2" font-family="Liberation Sans" font-size="7" fill="#3a3200">29</text></g>
</svg>
<svg class="a" style="left:0;top:0" width="2129" height="2100" viewBox="0 0 2129 2100">
<g filter="url(#sh)"><polygon points="296.0,1468.0 600.0,1505.0 584.0,1665.0 279.0,1628.0" fill="url(#gbox)" /><polygon points="296.0,1468.0 326.4,1465.7 569.6,1495.3 599.4,1511.4" fill="#f9d9b8" /><polygon points="296.0,1468.0 302.1,1468.7 285.1,1628.7 279.0,1628.0" fill="#dc9a67" /><polygon points="308.8,1487.8 443.5,1502.3 436.3,1574.7 308.8,1560.3" fill="#f4f1e6" /><polygon points="315.5,1492.9 436.4,1505.9 435.3,1517.5 315.5,1504.5" fill="none" stroke="#bdb6a6" stroke-width="1.2"/><polygon points="416.1,1505.2 433.5,1507.1 432.7,1515.8 415.4,1513.9" fill="#2b2b36" /><polygon points="377.7,1517.1 434.7,1523.3 430.4,1568.9 375.4,1562.7" fill="none" stroke="#c9c2b2" stroke-width="1.2"/><line x1="316.7" y1="1526.4" x2="371.7" y2="1532.4" stroke="#b5b0a5" stroke-width="1.2"/><line x1="316.6" y1="1535.1" x2="371.2" y2="1541.1" stroke="#b5b0a5" stroke-width="1.2"/><line x1="316.6" y1="1543.8" x2="370.8" y2="1549.8" stroke="#b5b0a5" stroke-width="1.2"/><text x="0" y="0" transform="translate(315.4,1519.0) rotate(6.27)" font-family="Liberation Sans" font-weight="bold" font-size="11.0" fill="#2a2a2a">13055602</text><g transform="rotate(6.3 483.9 1617.2)"><g transform="translate(483.8947999999999,1617.22) scale(0.7656084181877835)"><rect x="-24" y="-24" width="48" height="48" fill="none" stroke="#4a4038" stroke-width="2.09"/><path d="M-14,-15 h28 q0,16 -14,18 q-14,-2 -14,-18z" fill="#4a4038"/><path d="M0,3 v10 M-9,14 h18" stroke="#4a4038" stroke-width="3"/></g></g><g transform="rotate(6.3 541.8 1624.2)"><g transform="translate(541.803,1624.25) scale(0.7656084181877835)"><rect x="-24" y="-24" width="48" height="48" fill="none" stroke="#4a4038" stroke-width="2.09"/><path d="M-8,12 v-20 M8,12 v-20 M-15,15 h30" stroke="#4a4038" stroke-width="3.5"/><path d="M-14,-7 l6,-11 l6,11z M2,-7 l6,-11 l6,11z" fill="#4a4038"/></g></g><polygon points="203.0,1627.0 597.1,1589.2 599.2,1615.3 206.0,1654.4" fill="#f2de1e" /><polygon points="205.4,1648.9 598.8,1610.1 599.2,1615.3 206.0,1654.4" fill="#d6b90d" /><polygon points="203.0,1627.0 597.1,1589.2 597.3,1591.3 203.2,1629.2" fill="#fff27a" /><polygon points="203.0,1627.0 210.9,1626.2 213.9,1653.6 206.0,1654.4" fill="#9a9a9a" /><line x1="214.4" y1="1628.7" x2="215.1" y2="1635.5" stroke="#3a3200" stroke-width="0.8"/><line x1="217.6" y1="1628.4" x2="218.4" y2="1635.2" stroke="#3a3200" stroke-width="0.8"/><line x1="220.8" y1="1628.1" x2="221.6" y2="1634.9" stroke="#3a3200" stroke-width="0.8"/><line x1="224.1" y1="1627.7" x2="225.4" y2="1640.0" stroke="#3a3200" stroke-width="0.8"/><line x1="227.3" y1="1627.4" x2="228.0" y2="1634.3" stroke="#3a3200" stroke-width="0.8"/><line x1="230.5" y1="1627.1" x2="231.2" y2="1634.0" stroke="#3a3200" stroke-width="0.8"/><line x1="233.7" y1="1626.8" x2="234.4" y2="1633.6" stroke="#3a3200" stroke-width="0.8"/><line x1="236.9" y1="1626.5" x2="238.2" y2="1638.8" stroke="#3a3200" stroke-width="0.8"/><line x1="240.1" y1="1626.2" x2="240.9" y2="1633.0" stroke="#3a3200" stroke-width="0.8"/><line x1="243.4" y1="1625.9" x2="244.1" y2="1632.7" stroke="#3a3200" stroke-width="0.8"/><line x1="246.6" y1="1625.6" x2="247.3" y2="1632.4" stroke="#3a3200" stroke-width="0.8"/><line x1="249.8" y1="1625.3" x2="251.1" y2="1637.5" stroke="#3a3200" stroke-width="0.8"/><line x1="253.0" y1="1625.0" x2="253.7" y2="1631.8" stroke="#3a3200" stroke-width="0.8"/><line x1="256.2" y1="1624.6" x2="256.9" y2="1631.5" stroke="#3a3200" stroke-width="0.8"/><line x1="259.4" y1="1624.3" x2="260.2" y2="1631.1" stroke="#3a3200" stroke-width="0.8"/><line x1="262.7" y1="1624.0" x2="264.0" y2="1636.3" stroke="#3a3200" stroke-width="0.8"/><line x1="265.9" y1="1623.7" x2="266.6" y2="1630.5" stroke="#3a3200" stroke-width="0.8"/><line x1="269.1" y1="1623.4" x2="269.8" y2="1630.2" stroke="#3a3200" stroke-width="0.8"/><line x1="272.3" y1="1623.1" x2="273.0" y2="1629.9" stroke="#3a3200" stroke-width="0.8"/><line x1="275.5" y1="1622.8" x2="276.8" y2="1635.0" stroke="#3a3200" stroke-width="0.8"/><line x1="278.8" y1="1622.5" x2="279.5" y2="1629.3" stroke="#3a3200" stroke-width="0.8"/><line x1="282.0" y1="1622.2" x2="282.7" y2="1629.0" stroke="#3a3200" stroke-width="0.8"/><line x1="285.2" y1="1621.9" x2="285.9" y2="1628.6" stroke="#3a3200" stroke-width="0.8"/><line x1="288.4" y1="1621.5" x2="289.7" y2="1633.8" stroke="#3a3200" stroke-width="0.8"/><line x1="291.6" y1="1621.2" x2="292.3" y2="1628.0" stroke="#3a3200" stroke-width="0.8"/><line x1="294.8" y1="1620.9" x2="295.5" y2="1627.7" stroke="#3a3200" stroke-width="0.8"/><line x1="298.1" y1="1620.6" x2="298.8" y2="1627.4" stroke="#3a3200" stroke-width="0.8"/><line x1="301.3" y1="1620.3" x2="302.5" y2="1632.5" stroke="#3a3200" stroke-width="0.8"/><line x1="304.5" y1="1620.0" x2="305.2" y2="1626.8" stroke="#3a3200" stroke-width="0.8"/><line x1="307.7" y1="1619.7" x2="308.4" y2="1626.5" stroke="#3a3200" stroke-width="0.8"/><line x1="310.9" y1="1619.4" x2="311.6" y2="1626.1" stroke="#3a3200" stroke-width="0.8"/><line x1="314.1" y1="1619.1" x2="315.4" y2="1631.2" stroke="#3a3200" stroke-width="0.8"/><line x1="317.4" y1="1618.8" x2="318.1" y2="1625.5" stroke="#3a3200" stroke-width="0.8"/><line x1="320.6" y1="1618.4" x2="321.3" y2="1625.2" stroke="#3a3200" stroke-width="0.8"/><line x1="323.8" y1="1618.1" x2="324.5" y2="1624.9" stroke="#3a3200" stroke-width="0.8"/><line x1="327.0" y1="1617.8" x2="328.2" y2="1630.0" stroke="#3a3200" stroke-width="0.8"/><line x1="330.2" y1="1617.5" x2="330.9" y2="1624.3" stroke="#3a3200" stroke-width="0.8"/><line x1="333.5" y1="1617.2" x2="334.1" y2="1624.0" stroke="#3a3200" stroke-width="0.8"/><line x1="336.7" y1="1616.9" x2="337.3" y2="1623.6" stroke="#3a3200" stroke-width="0.8"/><line x1="339.9" y1="1616.6" x2="341.1" y2="1628.7" stroke="#3a3200" stroke-width="0.8"/><line x1="343.1" y1="1616.3" x2="343.8" y2="1623.0" stroke="#3a3200" stroke-width="0.8"/><line x1="346.3" y1="1616.0" x2="347.0" y2="1622.7" stroke="#3a3200" stroke-width="0.8"/><line x1="349.5" y1="1615.7" x2="350.2" y2="1622.4" stroke="#3a3200" stroke-width="0.8"/><line x1="352.8" y1="1615.4" x2="354.0" y2="1627.5" stroke="#3a3200" stroke-width="0.8"/><line x1="356.0" y1="1615.0" x2="356.6" y2="1621.8" stroke="#3a3200" stroke-width="0.8"/><line x1="359.2" y1="1614.7" x2="359.9" y2="1621.5" stroke="#3a3200" stroke-width="0.8"/><line x1="362.4" y1="1614.4" x2="363.1" y2="1621.1" stroke="#3a3200" stroke-width="0.8"/><line x1="365.6" y1="1614.1" x2="366.8" y2="1626.2" stroke="#3a3200" stroke-width="0.8"/><line x1="368.8" y1="1613.8" x2="369.5" y2="1620.5" stroke="#3a3200" stroke-width="0.8"/><line x1="372.1" y1="1613.5" x2="372.7" y2="1620.2" stroke="#3a3200" stroke-width="0.8"/><line x1="375.3" y1="1613.2" x2="375.9" y2="1619.9" stroke="#3a3200" stroke-width="0.8"/><line x1="378.5" y1="1612.9" x2="379.7" y2="1624.9" stroke="#3a3200" stroke-width="0.8"/><line x1="381.7" y1="1612.6" x2="382.4" y2="1619.3" stroke="#3a3200" stroke-width="0.8"/><line x1="384.9" y1="1612.3" x2="385.6" y2="1619.0" stroke="#3a3200" stroke-width="0.8"/><line x1="388.2" y1="1611.9" x2="388.8" y2="1618.6" stroke="#3a3200" stroke-width="0.8"/><line x1="391.4" y1="1611.6" x2="392.5" y2="1623.7" stroke="#3a3200" stroke-width="0.8"/><line x1="394.6" y1="1611.3" x2="395.2" y2="1618.0" stroke="#3a3200" stroke-width="0.8"/><line x1="397.8" y1="1611.0" x2="398.4" y2="1617.7" stroke="#3a3200" stroke-width="0.8"/><line x1="401.0" y1="1610.7" x2="401.7" y2="1617.4" stroke="#3a3200" stroke-width="0.8"/><line x1="404.2" y1="1610.4" x2="405.4" y2="1622.4" stroke="#3a3200" stroke-width="0.8"/><line x1="407.5" y1="1610.1" x2="408.1" y2="1616.8" stroke="#3a3200" stroke-width="0.8"/><line x1="410.7" y1="1609.8" x2="411.3" y2="1616.5" stroke="#3a3200" stroke-width="0.8"/><line x1="413.9" y1="1609.5" x2="414.5" y2="1616.1" stroke="#3a3200" stroke-width="0.8"/><line x1="417.1" y1="1609.2" x2="418.2" y2="1621.2" stroke="#3a3200" stroke-width="0.8"/><line x1="420.3" y1="1608.8" x2="421.0" y2="1615.5" stroke="#3a3200" stroke-width="0.8"/><line x1="423.6" y1="1608.5" x2="424.2" y2="1615.2" stroke="#3a3200" stroke-width="0.8"/><line x1="426.8" y1="1608.2" x2="427.4" y2="1614.9" stroke="#3a3200" stroke-width="0.8"/><line x1="430.0" y1="1607.9" x2="431.1" y2="1619.9" stroke="#3a3200" stroke-width="0.8"/><line x1="433.2" y1="1607.6" x2="433.8" y2="1614.3" stroke="#3a3200" stroke-width="0.8"/><line x1="436.4" y1="1607.3" x2="437.0" y2="1614.0" stroke="#3a3200" stroke-width="0.8"/><line x1="439.6" y1="1607.0" x2="440.3" y2="1613.6" stroke="#3a3200" stroke-width="0.8"/><line x1="442.9" y1="1606.7" x2="444.0" y2="1618.7" stroke="#3a3200" stroke-width="0.8"/><line x1="446.1" y1="1606.4" x2="446.7" y2="1613.0" stroke="#3a3200" stroke-width="0.8"/><line x1="449.3" y1="1606.1" x2="449.9" y2="1612.7" stroke="#3a3200" stroke-width="0.8"/><line x1="452.5" y1="1605.7" x2="453.1" y2="1612.4" stroke="#3a3200" stroke-width="0.8"/><line x1="455.7" y1="1605.4" x2="456.8" y2="1617.4" stroke="#3a3200" stroke-width="0.8"/><line x1="458.9" y1="1605.1" x2="459.6" y2="1611.8" stroke="#3a3200" stroke-width="0.8"/><line x1="462.2" y1="1604.8" x2="462.8" y2="1611.5" stroke="#3a3200" stroke-width="0.8"/><line x1="465.4" y1="1604.5" x2="466.0" y2="1611.1" stroke="#3a3200" stroke-width="0.8"/><line x1="468.6" y1="1604.2" x2="469.7" y2="1616.1" stroke="#3a3200" stroke-width="0.8"/><line x1="471.8" y1="1603.9" x2="472.4" y2="1610.5" stroke="#3a3200" stroke-width="0.8"/><line x1="475.0" y1="1603.6" x2="475.6" y2="1610.2" stroke="#3a3200" stroke-width="0.8"/><line x1="478.3" y1="1603.3" x2="478.8" y2="1609.9" stroke="#3a3200" stroke-width="0.8"/><line x1="481.5" y1="1603.0" x2="482.5" y2="1614.9" stroke="#3a3200" stroke-width="0.8"/><line x1="484.7" y1="1602.7" x2="485.3" y2="1609.3" stroke="#3a3200" stroke-width="0.8"/><line x1="487.9" y1="1602.3" x2="488.5" y2="1609.0" stroke="#3a3200" stroke-width="0.8"/><line x1="491.1" y1="1602.0" x2="491.7" y2="1608.6" stroke="#3a3200" stroke-width="0.8"/><line x1="494.3" y1="1601.7" x2="495.4" y2="1613.6" stroke="#3a3200" stroke-width="0.8"/><line x1="497.6" y1="1601.4" x2="498.1" y2="1608.0" stroke="#3a3200" stroke-width="0.8"/><line x1="500.8" y1="1601.1" x2="501.4" y2="1607.7" stroke="#3a3200" stroke-width="0.8"/><line x1="504.0" y1="1600.8" x2="504.6" y2="1607.4" stroke="#3a3200" stroke-width="0.8"/><line x1="507.2" y1="1600.5" x2="508.3" y2="1612.4" stroke="#3a3200" stroke-width="0.8"/><line x1="510.4" y1="1600.2" x2="511.0" y2="1606.8" stroke="#3a3200" stroke-width="0.8"/><line x1="513.6" y1="1599.9" x2="514.2" y2="1606.5" stroke="#3a3200" stroke-width="0.8"/><line x1="516.9" y1="1599.6" x2="517.4" y2="1606.1" stroke="#3a3200" stroke-width="0.8"/><line x1="520.1" y1="1599.2" x2="521.1" y2="1611.1" stroke="#3a3200" stroke-width="0.8"/><line x1="523.3" y1="1598.9" x2="523.9" y2="1605.5" stroke="#3a3200" stroke-width="0.8"/><line x1="526.5" y1="1598.6" x2="527.1" y2="1605.2" stroke="#3a3200" stroke-width="0.8"/><line x1="529.7" y1="1598.3" x2="530.3" y2="1604.9" stroke="#3a3200" stroke-width="0.8"/><line x1="533.0" y1="1598.0" x2="534.0" y2="1609.8" stroke="#3a3200" stroke-width="0.8"/><line x1="536.2" y1="1597.7" x2="536.7" y2="1604.3" stroke="#3a3200" stroke-width="0.8"/><line x1="539.4" y1="1597.4" x2="539.9" y2="1604.0" stroke="#3a3200" stroke-width="0.8"/><line x1="542.6" y1="1597.1" x2="543.2" y2="1603.6" stroke="#3a3200" stroke-width="0.8"/><line x1="545.8" y1="1596.8" x2="546.8" y2="1608.6" stroke="#3a3200" stroke-width="0.8"/><line x1="549.0" y1="1596.5" x2="549.6" y2="1603.0" stroke="#3a3200" stroke-width="0.8"/><line x1="552.3" y1="1596.1" x2="552.8" y2="1602.7" stroke="#3a3200" stroke-width="0.8"/><line x1="555.5" y1="1595.8" x2="556.0" y2="1602.4" stroke="#3a3200" stroke-width="0.8"/><line x1="558.7" y1="1595.5" x2="559.7" y2="1607.3" stroke="#3a3200" stroke-width="0.8"/><line x1="561.9" y1="1595.2" x2="562.5" y2="1601.8" stroke="#3a3200" stroke-width="0.8"/><line x1="565.1" y1="1594.9" x2="565.7" y2="1601.5" stroke="#3a3200" stroke-width="0.8"/><line x1="568.4" y1="1594.6" x2="568.9" y2="1601.1" stroke="#3a3200" stroke-width="0.8"/><line x1="571.6" y1="1594.3" x2="572.5" y2="1606.1" stroke="#3a3200" stroke-width="0.8"/><line x1="574.8" y1="1594.0" x2="575.3" y2="1600.5" stroke="#3a3200" stroke-width="0.8"/><line x1="578.0" y1="1593.7" x2="578.5" y2="1600.2" stroke="#3a3200" stroke-width="0.8"/><line x1="581.2" y1="1593.4" x2="581.8" y2="1599.9" stroke="#3a3200" stroke-width="0.8"/><line x1="584.4" y1="1593.0" x2="585.4" y2="1604.8" stroke="#3a3200" stroke-width="0.8"/><line x1="587.7" y1="1592.7" x2="588.2" y2="1599.3" stroke="#3a3200" stroke-width="0.8"/><line x1="590.9" y1="1592.4" x2="591.4" y2="1599.0" stroke="#3a3200" stroke-width="0.8"/><line x1="594.1" y1="1592.1" x2="594.6" y2="1598.6" stroke="#3a3200" stroke-width="0.8"/><text x="228.5" y="1639.7" font-family="Liberation Sans" font-size="7" fill="#3a3200">1</text><text x="241.4" y="1638.5" font-family="Liberation Sans" font-size="7" fill="#3a3200">2</text><text x="254.2" y="1637.2" font-family="Liberation Sans" font-size="7" fill="#3a3200">3</text><text x="267.1" y="1636.0" font-family="Liberation Sans" font-size="7" fill="#3a3200">4</text><text x="280.0" y="1634.7" font-family="Liberation Sans" font-size="7" fill="#3a3200">5</text><text x="292.8" y="1633.4" font-family="Liberation Sans" font-size="7" fill="#3a3200">6</text><text x="305.7" y="1632.2" font-family="Liberation Sans" font-size="7" fill="#3a3200">7</text><text x="318.5" y="1630.9" font-family="Liberation Sans" font-size="7" fill="#3a3200">8</text><text x="331.4" y="1629.7" font-family="Liberation Sans" font-size="7" fill="#3a3200">9</text><text x="344.2" y="1628.4" font-family="Liberation Sans" font-size="7" fill="#e2301a">10</text><text x="357.1" y="1627.2" font-family="Liberation Sans" font-size="7" fill="#3a3200">11</text><text x="370.0" y="1625.9" font-family="Liberation Sans" font-size="7" fill="#3a3200">12</text><text x="382.8" y="1624.6" font-family="Liberation Sans" font-size="7" fill="#3a3200">13</text><text x="395.7" y="1623.4" font-family="Liberation Sans" font-size="7" fill="#3a3200">14</text><text x="408.5" y="1622.1" font-family="Liberation Sans" font-size="7" fill="#3a3200">15</text><text x="421.4" y="1620.9" font-family="Liberation Sans" font-size="7" fill="#3a3200">16</text><text x="434.3" y="1619.6" font-family="Liberation Sans" font-size="7" fill="#3a3200">17</text><text x="447.1" y="1618.3" font-family="Liberation Sans" font-size="7" fill="#3a3200">18</text><text x="460.0" y="1617.1" font-family="Liberation Sans" font-size="7" fill="#3a3200">19</text><text x="472.8" y="1615.8" font-family="Liberation Sans" font-size="7" fill="#e2301a">20</text><text x="485.7" y="1614.6" font-family="Liberation Sans" font-size="7" fill="#3a3200">21</text><text x="498.5" y="1613.3" font-family="Liberation Sans" font-size="7" fill="#3a3200">22</text><text x="511.4" y="1612.1" font-family="Liberation Sans" font-size="7" fill="#3a3200">23</text><text x="524.3" y="1610.8" font-family="Liberation Sans" font-size="7" fill="#3a3200">24</text><text x="537.1" y="1609.5" font-family="Liberation Sans" font-size="7" fill="#3a3200">25</text><text x="550.0" y="1608.3" font-family="Liberation Sans" font-size="7" fill="#3a3200">26</text><text x="562.8" y="1607.0" font-family="Liberation Sans" font-size="7" fill="#3a3200">27</text><text x="575.7" y="1605.8" font-family="Liberation Sans" font-size="7" fill="#3a3200">28</text><text x="588.5" y="1604.5" font-family="Liberation Sans" font-size="7" fill="#3a3200">29</text></g>
<g filter="url(#sh)"><polygon points="844.8,1468.9 978.0,1497.8 925.4,1751.0 791.4,1723.0" fill="#d99468" /><polygon points="978.0,1497.8 1022.6,1479.4 968.3,1737.0 925.4,1751.0" fill="#c47b52" /><polygon points="888.6,1451.4 1022.6,1479.4 978.0,1497.8 844.8,1468.9" fill="#e3a880" /><polygon points="907.4,1482.5 924.7,1486.2 899.8,1605.4 882.5,1601.7" fill="#ecd3b0" /><polygon points="861.8,1700.6 879.2,1704.3 871.8,1739.8 854.4,1736.2" fill="#ecd3b0" opacity="0.9"/><polygon points="951.6,1464.6 969.0,1468.2 924.7,1486.2 907.4,1482.5" fill="#ecd3b0" /><polygon points="870.2,1458.8 1003.9,1487.1 995.8,1490.4 862.3,1461.9" fill="#ecd3b0" opacity="0.8"/><polygon points="995.8,1490.4 1011.5,1484.0 991.5,1578.9 976.1,1584.8" fill="#ecd3b0" opacity="0.85"/><polygon points="956.9,1676.6 972.1,1671.2 960.3,1727.7 945.2,1732.7" fill="#ecd3b0" opacity="0.85"/><g transform="translate(811.74432,1706.0406400000002) scale(0.3607500000000001)"><rect x="-24" y="-24" width="48" height="48" fill="none" stroke="#3a3a3a" stroke-width="3.88"/><path d="M-16,-4 q16,-22 32,0z" fill="#3a3a3a"/><path d="M0,-4 v14 q0,5 -5,3" fill="none" stroke="#3a3a3a" stroke-width="3"/></g><g transform="translate(831.83472,1710.25144) scale(0.3607500000000001)"><rect x="-24" y="-24" width="48" height="48" fill="none" stroke="#3a3a3a" stroke-width="3.88"/><path d="M-8,12 v-20 M8,12 v-20 M-15,15 h30" stroke="#3a3a3a" stroke-width="3.5"/><path d="M-14,-7 l6,-11 l6,11z M2,-7 l6,-11 l6,11z" fill="#3a3a3a"/></g><g transform="translate(851.9251200000001,1714.46224) scale(0.3607500000000001)"><rect x="-24" y="-24" width="48" height="48" fill="none" stroke="#3a3a3a" stroke-width="3.88"/><path d="M-14,-15 h28 q0,16 -14,18 q-14,-2 -14,-18z" fill="#3a3a3a"/><path d="M0,3 v10 M-9,14 h18" stroke="#3a3a3a" stroke-width="3"/></g></g>
<g transform="translate(346.5,637)" filter="url(#sh)"><polygon points="868.9,830.4 1011.3,845.5 1019.8,882.3 1017.9,908.7 938.7,912.0 889.6,869.0 889.6,855.8" fill="#f6b55c" stroke="#f6b55c" stroke-linejoin="round" stroke-width="0.8"/><path d="M960,850 q30,0 50,12 q-20,8 -50,-2z" fill="#f9c67a" opacity="0.7"/><polygon points="863.2,874.7 889.6,869.0 1008.5,908.7 938.7,933.2 897.2,946.4" fill="#d97a4b" stroke="#d97a4b" stroke-linejoin="round" stroke-width="0.8"/><polygon points="900.0,945.0 925.0,930.0 945.0,928.0 960.0,925.0 905.0,950.0" fill="#8a5a30" /><polygon points="758.5,898.3 882.0,952.0 880.2,1054.0 800.0,1020.0 770.8,1001.0 768.0,975.0 763.0,952.0 768.0,920.0" fill="#f2a545" stroke="#f2a545" stroke-linejoin="round" stroke-width="0.8"/><polygon points="882.0,952.0 1016.0,908.7 1019.0,960.0 1014.0,999.0 1002.0,1010.0 882.0,1054.0" fill="#f7ae4a" stroke="#f7ae4a" stroke-linejoin="round" stroke-width="0.8"/><path d="M766,955 q40,-5 70,10 q25,10 46,8 l0,6 q-25,2 -48,-8 q-30,-12 -68,-8z" fill="#e08a38" opacity="0.8"/><path d="M772,985 q40,0 62,12 q25,10 48,10 l0,5 q-25,0 -50,-10 q-25,-10 -60,-10z" fill="#e08a38" opacity="0.7"/><path d="M770,935 q40,0 70,14 l-4,4 q-35,-12 -66,-10z" fill="#f8c070" opacity="0.8"/><path d="M885,1000 q50,-10 90,-22 q25,-6 40,-4 l0,5 q-20,-1 -45,6 q-40,12 -85,20z" fill="#fbc46a" opacity="0.8"/><path d="M885,1030 q60,-15 125,-35 l2,5 q-60,22 -127,35z" fill="#fbc46a" opacity="0.6"/><polygon points="758.5,898.3 805.7,854.0 927.4,901.1 916.0,925.7 897.2,946.4 882.0,952.0" fill="#f6b657" stroke="#f6b657" stroke-linejoin="round" stroke-width="0.8"/><path d="M850,900 q30,10 60,5 l-10,15 q-30,0 -55,-10z" fill="#f9c77a" opacity="0.7"/><polygon points="916.0,969.0 940.6,963.4 957.5,967.2 959.4,960.6 985.8,955.8 1008.5,957.7 1001.0,969.0 1012.3,993.6 993.4,984.2 989.6,974.7 976.4,976.6 968.9,987.9 963.2,999.2 967.0,986.0 936.8,978.5" fill="#8c5a2e" /><polygon points="788.7,891.7 810.4,870.0 851.9,880.4 831.1,905.8" fill="#fbe8d2" /><path d="M806,880 q4,-3 8,0 t8,1 t8,2 t8,2 M798,892 q4,-3 8,0 t8,1 t8,2 t8,2" fill="none" stroke="#3b63b8" stroke-width="1.3"/></g>
<g filter="url(#sh)"><rect x="1401.5" y="1659.2" width="284" height="10.5" fill="#55739c"/><rect x="1401.5" y="1659.2" width="36" height="10.5" fill="#3e5a82"/><rect x="1422.4" y="1669.7" width="23" height="21.3" fill="#3f5a80"/><rect x="1467.3" y="1669.7" width="23" height="21.3" fill="#3f5a80"/><rect x="1513.2" y="1669.7" width="23" height="21.3" fill="#3f5a80"/><rect x="1557.1" y="1669.7" width="23" height="21.3" fill="#3f5a80"/><rect x="1603" y="1669.7" width="23" height="21.3" fill="#3f5a80"/><rect x="1648" y="1669.7" width="23" height="21.3" fill="#3f5a80"/><rect x="1401.5" y="1691" width="284" height="10.4" fill="#55739c"/><rect x="1401.5" y="1691" width="36" height="10.4" fill="#3e5a82"/><rect x="1520.6" y="1500.3" width="97.1" height="80" fill="#f2b87c"/><rect x="1520.6" y="1500.3" width="25" height="80" fill="#dc8b55"/><rect x="1448.5" y="1542.3" width="89.8" height="70" fill="#f2b87c"/><rect x="1448.5" y="1542.3" width="19.8" height="70" fill="#dc8b55"/><rect x="1473" y="1559" width="65" height="10" fill="#e8a86b"/><rect x="1564" y="1543.7" width="83" height="60" fill="#f2b87c"/><rect x="1572" y="1543.7" width="16" height="25" fill="#dc8b55"/><rect x="1554" y="1538" width="62" height="6" fill="#e8a86b"/><rect x="1484" y="1568.8" width="26" height="90.4" fill="#dc8b55"/><rect x="1510.1" y="1568.8" width="93" height="90.4" fill="#f2b87c"/><rect x="1420.3" y="1601.2" width="75.2" height="58" fill="#f2b87c"/><rect x="1420.3" y="1601.2" width="16.7" height="58" fill="#dc8b55"/><rect x="1479" y="1601.2" width="16" height="58" fill="#e8a86b"/><rect x="1603.1" y="1601.2" width="63.7" height="58" fill="#f2b87c"/><rect x="1603.1" y="1601.2" width="5" height="58" fill="#dc8b55"/><rect x="1577" y="1501" width="17" height="21" fill="#f7d3b5"/><rect x="1544" y="1542.5" width="19" height="16" fill="#f7d3b5"/><rect x="1543" y="1569" width="24" height="23" fill="#f7d3b5"/><rect x="1613" y="1544" width="10" height="14" fill="#f7d3b5"/><rect x="1613" y="1587" width="10" height="14" fill="#f7d3b5"/><rect x="1458" y="1602" width="16" height="15" fill="#f7d3b5"/><rect x="1460" y="1645" width="16" height="14" fill="#f7d3b5"/><rect x="1543" y="1636" width="24" height="23" fill="#f7d3b5"/><rect x="1629" y="1602" width="16" height="15" fill="#f7d3b5"/><rect x="1629" y="1645" width="16" height="14" fill="#f7d3b5"/><rect x="1439.5" y="1648" width="14.5" height="7.5" fill="#fff"/><rect x="1440.5" y="1649.2" width="1" height="5.1" fill="#222"/><rect x="1442.3" y="1649.2" width="1" height="5.1" fill="#222"/><rect x="1445.9" y="1649.2" width="1" height="5.1" fill="#222"/><rect x="1447.7" y="1649.2" width="1" height="5.1" fill="#222"/><rect x="1451.3" y="1649.2" width="1" height="5.1" fill="#222"/><rect x="1453.1" y="1649.2" width="1" height="5.1" fill="#222"/><rect x="1515.5" y="1641" width="23" height="12" fill="#fff"/><rect x="1516.5" y="1642.2" width="1" height="9.6" fill="#222"/><rect x="1518.3" y="1642.2" width="1" height="9.6" fill="#222"/><rect x="1521.9" y="1642.2" width="1" height="9.6" fill="#222"/><rect x="1523.7" y="1642.2" width="1" height="9.6" fill="#222"/><rect x="1527.3" y="1642.2" width="1" height="9.6" fill="#222"/><rect x="1529.1" y="1642.2" width="1" height="9.6" fill="#222"/><rect x="1532.7" y="1642.2" width="1" height="9.6" fill="#222"/><rect x="1534.5" y="1642.2" width="1" height="9.6" fill="#222"/><rect x="1628" y="1590" width="15" height="7.5" fill="#fff"/><rect x="1629.0" y="1591.2" width="1" height="5.1" fill="#222"/><rect x="1630.8" y="1591.2" width="1" height="5.1" fill="#222"/><rect x="1634.4" y="1591.2" width="1" height="5.1" fill="#222"/><rect x="1636.2" y="1591.2" width="1" height="5.1" fill="#222"/><rect x="1639.8" y="1591.2" width="1" height="5.1" fill="#222"/><rect x="1641.6" y="1591.2" width="1" height="5.1" fill="#222"/><rect x="1610.5" y="1648" width="15" height="7.5" fill="#fff"/><rect x="1611.5" y="1649.2" width="1" height="5.1" fill="#222"/><rect x="1613.3" y="1649.2" width="1" height="5.1" fill="#222"/><rect x="1616.9" y="1649.2" width="1" height="5.1" fill="#222"/><rect x="1618.7" y="1649.2" width="1" height="5.1" fill="#222"/><rect x="1622.3" y="1649.2" width="1" height="5.1" fill="#222"/><rect x="1624.1" y="1649.2" width="1" height="5.1" fill="#222"/><rect x="1471" y="1597" width="13" height="4" fill="#fff"/><rect x="1472.0" y="1598.2" width="1" height="1.6" fill="#222"/><rect x="1473.8" y="1598.2" width="1" height="1.6" fill="#222"/><rect x="1477.4" y="1598.2" width="1" height="1.6" fill="#222"/><rect x="1479.2" y="1598.2" width="1" height="1.6" fill="#222"/><rect x="1482.8" y="1598.2" width="1" height="1.6" fill="#222"/></g>
<g transform="translate(1698.3,652.2)" filter="url(#sh)"><polygon points="103.6,843.0 115.7,843.0 129.2,1017.0 115.7,1017.0" fill="#9ea3b0" /><polygon points="103.6,843.0 115.7,843.0 118.0,868.0 106.0,868.0" fill="#6f7482" /><rect x="238" y="875" width="88" height="110" fill="#f2b57a"/><rect x="238" y="875" width="20" height="32" fill="#db8a52"/><rect x="141" y="912" width="145" height="104" fill="#f2b57a"/><rect x="141" y="912" width="32" height="104" fill="#db8a52"/><rect x="279" y="935" width="77" height="70" fill="#f2b57a"/><rect x="279" y="935" width="9" height="70" fill="#db8a52"/><rect x="209" y="906" width="29" height="27" fill="#f8d3b2"/><rect x="214" y="982" width="30" height="27" fill="#f8d3b2"/><rect x="287" y="874" width="11" height="15" fill="#f8d3b2"/><rect x="289.5" y="921" width="12" height="16" fill="#f8d3b2"/><rect x="310" y="936" width="17" height="17" fill="#f8d3b2"/><rect x="312" y="986" width="19" height="16" fill="#f8d3b2"/><rect x="182" y="991" width="27" height="15" fill="#fff"/><rect x="183.5" y="993" width="1.2" height="11" fill="#222"/><rect x="187.9" y="993" width="1.2" height="11" fill="#222"/><rect x="190.1" y="993" width="1.2" height="11" fill="#222"/><rect x="194.5" y="993" width="1.2" height="11" fill="#222"/><rect x="196.7" y="993" width="1.2" height="11" fill="#222"/><rect x="201.1" y="993" width="1.2" height="11" fill="#222"/><rect x="203.3" y="993" width="1.2" height="11" fill="#222"/><rect x="207.7" y="993" width="1.2" height="11" fill="#222"/><rect x="307" y="924" width="18" height="9" fill="#fff"/><rect x="308.5" y="926" width="1.2" height="5" fill="#222"/><rect x="312.9" y="926" width="1.2" height="5" fill="#222"/><rect x="315.1" y="926" width="1.2" height="5" fill="#222"/><rect x="319.5" y="926" width="1.2" height="5" fill="#222"/><rect x="321.7" y="926" width="1.2" height="5" fill="#222"/><rect x="291" y="991" width="17" height="10" fill="#fff"/><rect x="292.5" y="993" width="1.2" height="6" fill="#222"/><rect x="296.9" y="993" width="1.2" height="6" fill="#222"/><rect x="299.1" y="993" width="1.2" height="6" fill="#222"/><rect x="303.5" y="993" width="1.2" height="6" fill="#222"/><rect x="305.7" y="993" width="1.2" height="6" fill="#222"/><polygon points="71.0,1019.5 407.0,996.6 408.0,1019.5 72.6,1043.8" fill="#5e7ea6" /><polygon points="127.8,1041.0 351.5,1026.0 351.5,1031.0 127.8,1046.0" fill="#ffffff" /><polygon points="91.4,1049.0 390.6,1030.3 390.6,1039.8 91.4,1060.0" fill="#3b3841" /><polygon points="111.0,1050.0 125.0,1050.0 128.0,1062.0 133.0,1064.0 133.0,1074.0 112.0,1074.0 112.0,1064.0 116.0,1062.0" fill="#3b3841" /><polygon points="346.0,1036.0 358.0,1036.0 360.0,1046.0 370.0,1049.0 370.0,1057.0 350.0,1057.0 350.0,1049.0" fill="#3b3841" /><g transform="rotate(-3.8 108 803)"><rect x="36" y="764" width="142" height="78" rx="5" fill="#f6aa1c"/><rect x="47" y="772" width="117" height="10" fill="#3a3a48"/><rect x="49" y="789" width="120" height="44" fill="#5b7a9e"/><rect x="56" y="794" width="106" height="34" fill="#2c2c36"/><text x="0" y="0" text-anchor="end" font-family="Liberation Mono" font-size="30" fill="#3ee89b" transform="translate(157,822) scale(0.56,1)" style="letter-spacing:-1px">120.00</text></g></g>
</svg>
<svg class="a" style="left:0;top:0" width="2129" height="3600" viewBox="0 0 2129 3600">
<g filter="url(#sh)"><path d="M296.8,1971.2 L395.3,2027.3" stroke="#4f4f51" stroke-width="9" fill="none" stroke-linecap="round"/><path d="M291,1975 L293,2140" stroke="#3d3d3f" stroke-width="9" fill="none"/><path d="M392,2030 L392,2200" stroke="#4f4f51" stroke-width="10" fill="none"/><path d="M276,1989 L372,2043 M262,1997 L357,2051" stroke="#3d3d3f" stroke-width="6" fill="none"/><polygon points="340.0,2105.0 385.0,2128.0 386.0,2200.0 340.0,2180.0" fill="#474749" /><polygon points="259.4,2209.3 300.0,2190.0 396.6,2199.3 396.0,2235.0 370.4,2254.2 301.8,2289.0 257.0,2266.7" fill="#4f4f51" /><polygon points="314.3,2184.4 379.0,2191.9 355.0,2225.0 331.7,2244.2 314.3,2209.3" fill="#f4b56a" /><ellipse cx="325" cy="2185" rx="22" ry="12" fill="#2e2e33"/><polygon points="342.0,2120.0 356.0,2112.0 358.0,2160.0 344.0,2170.0" fill="#2e2e33" /><polygon points="270.0,2180.0 300.0,2165.0 335.0,2200.0 330.0,2245.0 312.0,2245.0 310.0,2205.0 280.0,2200.0" fill="#4c5fa8" /><polygon points="290.0,2085.0 330.0,2078.0 345.0,2095.0 345.0,2150.0 330.0,2175.0 300.0,2180.0 285.0,2150.0" fill="#4c5fa8" /><polygon points="292.0,2080.0 312.0,2075.0 345.0,2088.0 347.0,2130.0 335.0,2135.0 330.0,2100.0 300.0,2098.0" fill="#88a6dc" /><circle cx="314" cy="2058" r="12" fill="#f2c4a8"/><path d="M300,2052 q14,-22 30,-2 z" fill="#f5a93a"/><polygon points="285.0,2120.0 300.0,2130.0 295.0,2150.0 280.0,2150.0" fill="#f2c4a8" /><ellipse cx="283" cy="2157" rx="14" ry="12" fill="none" stroke="#2a2a2e" stroke-width="4"/><path d="M283,2160 L266,2210" stroke="#2a2a2e" stroke-width="5"/><path d="M212,2090 L214.5,2040 Q220,2008 249.5,2004.9 L296.8,1971.2" stroke="#5e5e60" stroke-width="11" fill="none" stroke-linejoin="round"/><path d="M249.5,2004.9 L344.2,2058.5 L395.3,2027.3" stroke="#5e5e60" stroke-width="9" fill="none" stroke-linejoin="round"/><path d="M344.2,2058.5 Q314,2078 311,2120 L309,2259" stroke="#5e5e60" stroke-width="11" fill="none"/><polygon points="207.0,2092.0 221.0,2086.0 228.0,2090.0 228.0,2182.0 214.0,2187.0 207.0,2182.0" fill="#4f4f51" /><rect x="219.5" y="2099" width="24" height="9" fill="#f4b56a"/><rect x="219.5" y="2119" width="24" height="10" fill="#f4b56a"/><rect x="222" y="2110" width="7" height="90" fill="#ffffff"/><polygon points="240.7,2109.0 254.0,2103.0 260.7,2107.0 260.7,2212.0 247.0,2218.0 240.7,2212.0" fill="#5e5e60" /><polygon points="262.0,2210.0 300.0,2235.0 300.0,2290.0 262.0,2270.0" fill="#3d3d3f" /><polygon points="246.0,1977.0 262.0,1977.0 265.0,2004.0 243.0,2004.0" fill="#d9405e" /><ellipse cx="254" cy="1977" rx="8" ry="3" fill="#e86a85"/><ellipse cx="254" cy="2005" rx="12" ry="4" fill="#3d3d3f"/><ellipse cx="278.1" cy="2289" rx="18.0" ry="20" fill="#1f1f22"/><ellipse cx="280.1" cy="2289" rx="12.4" ry="14.399999999999999" fill="#ffffff"/><ellipse cx="280.1" cy="2289" rx="9.6" ry="11.200000000000001" fill="#1f1f22"/><ellipse cx="280.1" cy="2289" rx="3.5999999999999996" ry="4.4" fill="#ffffff"/><ellipse cx="386.6" cy="2229.3" rx="16.2" ry="18" fill="#1f1f22"/><ellipse cx="388.6" cy="2229.3" rx="11.16" ry="12.959999999999999" fill="#ffffff"/><ellipse cx="388.6" cy="2229.3" rx="8.64" ry="10.080000000000002" fill="#1f1f22"/><ellipse cx="388.6" cy="2229.3" rx="3.2399999999999998" ry="3.96" fill="#ffffff"/><polygon points="92.0,2330.0 112.0,2322.0 130.0,2332.0 110.0,2342.0" fill="#3d3d3f" /><polygon points="140.0,2360.0 160.0,2352.0 178.0,2362.0 158.0,2372.0" fill="#3d3d3f" /><polygon points="65.5,2318.0 164.3,2374.7 164.3,2360.7 65.5,2304.0" fill="#e8891f" /><polygon points="164.3,2374.7 253.5,2323.1 253.5,2309.1 164.3,2360.7" fill="#d4721a" /><polygon points="65.5,2304.0 164.3,2360.7 253.5,2309.1 154.7,2252.4" fill="#f29a34" /><polygon points="82.8,2327.9 95.8,2335.4 95.8,2327.4 82.8,2319.9" fill="#e8891f" /><polygon points="134.9,2357.8 147.9,2365.2 147.9,2357.2 134.9,2349.8" fill="#e8891f" /><rect x="170.0" y="2359.6" width="7" height="4" fill="#fff"/><rect x="188.2" y="2349.1" width="7" height="4" fill="#fff"/><rect x="206.4" y="2338.6" width="7" height="4" fill="#fff"/><rect x="224.6" y="2328.1" width="7" height="4" fill="#fff"/><rect x="242.7" y="2317.6" width="7" height="4" fill="#fff"/><polygon points="112.3,2277.9 159.1,2304.8 159.1,2247.8 112.3,2220.9" fill="#efc58c" /><polygon points="159.1,2304.8 201.5,2280.2 201.5,2223.2 159.1,2247.8" fill="#e6b67a" /><polygon points="112.3,2220.9 159.1,2247.8 201.5,2223.2 154.7,2196.4" fill="#f7dbb0" /><polygon points="119.2,2248.9 129.6,2254.9 129.6,2238.9 119.2,2232.9" fill="#ffffff" /><polygon points="119.2,2271.9 124.4,2274.9 124.4,2262.9 119.2,2259.9" fill="#4a4a4c" /><polygon points="127.0,2276.4 132.2,2279.4 132.2,2267.4 127.0,2264.4" fill="#4a4a4c" /><polygon points="189.4,2257.2 196.3,2253.2 196.3,2239.2 189.4,2243.2" fill="#4a4a4c" /><polygon points="167.7,2291.8 185.1,2281.8 185.1,2278.8 167.7,2288.8" fill="#4a4a4c" /><polygon points="167.7,2285.8 185.1,2275.8 185.1,2272.8 167.7,2282.8" fill="#4a4a4c" /><polygon points="129.2,2211.2 176.0,2238.0 184.6,2233.0 137.8,2206.2" fill="#5e5e60" /><polygon points="176.0,2238.0 184.6,2233.0 184.6,2250.0 176.0,2255.0" fill="#4b4b4d" /><polygon points="159.1,2304.8 205.9,2331.6 205.9,2274.6 159.1,2247.8" fill="#efc58c" /><polygon points="205.9,2331.6 248.3,2307.1 248.3,2250.1 205.9,2274.6" fill="#e6b67a" /><polygon points="159.1,2247.8 205.9,2274.6 248.3,2250.1 201.5,2223.2" fill="#f7dbb0" /><polygon points="166.0,2275.8 176.4,2281.7 176.4,2265.7 166.0,2259.8" fill="#ffffff" /><polygon points="166.0,2298.8 171.2,2301.7 171.2,2289.7 166.0,2286.8" fill="#4a4a4c" /><polygon points="173.8,2303.2 179.0,2306.2 179.0,2294.2 173.8,2291.2" fill="#4a4a4c" /><polygon points="236.2,2284.1 243.1,2280.1 243.1,2266.1 236.2,2270.1" fill="#4a4a4c" /><polygon points="214.6,2318.6 231.9,2308.6 231.9,2305.6 214.6,2315.6" fill="#4a4a4c" /><polygon points="214.6,2312.6 231.9,2302.6 231.9,2299.6 214.6,2309.6" fill="#4a4a4c" /><polygon points="176.0,2238.0 222.8,2264.9 231.4,2259.8 184.6,2233.0" fill="#5e5e60" /><polygon points="222.8,2264.9 231.4,2259.8 231.4,2276.8 222.8,2281.9" fill="#4b4b4d" /><polygon points="69.8,2302.5 116.6,2329.3 116.6,2272.3 69.8,2245.5" fill="#efc58c" /><polygon points="116.6,2329.3 159.1,2304.8 159.1,2247.8 116.6,2272.3" fill="#e6b67a" /><polygon points="69.8,2245.5 116.6,2272.3 159.1,2247.8 112.3,2220.9" fill="#f7dbb0" /><polygon points="76.8,2273.5 87.2,2279.4 87.2,2263.4 76.8,2257.5" fill="#ffffff" /><polygon points="76.8,2296.5 82.0,2299.5 82.0,2287.5 76.8,2284.5" fill="#4a4a4c" /><polygon points="84.6,2300.9 89.8,2303.9 89.8,2291.9 84.6,2288.9" fill="#4a4a4c" /><polygon points="147.0,2281.8 153.9,2277.8 153.9,2263.8 147.0,2267.8" fill="#4a4a4c" /><polygon points="125.3,2316.3 142.6,2306.3 142.6,2303.3 125.3,2313.3" fill="#4a4a4c" /><polygon points="125.3,2310.3 142.6,2300.3 142.6,2297.3 125.3,2307.3" fill="#4a4a4c" /><polygon points="86.7,2235.7 133.5,2262.6 142.2,2257.6 95.4,2230.7" fill="#5e5e60" /><polygon points="133.5,2262.6 142.2,2257.6 142.2,2274.6 133.5,2279.6" fill="#4b4b4d" /><polygon points="116.6,2329.3 163.5,2356.2 163.5,2299.2 116.6,2272.3" fill="#efc58c" /><polygon points="163.5,2356.2 205.9,2331.6 205.9,2274.6 163.5,2299.2" fill="#e6b67a" /><polygon points="116.6,2272.3 163.5,2299.2 205.9,2274.6 159.1,2247.8" fill="#f7dbb0" /><polygon points="123.6,2300.3 134.0,2306.3 134.0,2290.3 123.6,2284.3" fill="#ffffff" /><polygon points="123.6,2323.3 128.8,2326.3 128.8,2314.3 123.6,2311.3" fill="#4a4a4c" /><polygon points="131.4,2327.8 136.6,2330.8 136.6,2318.8 131.4,2315.8" fill="#4a4a4c" /><polygon points="193.8,2308.6 200.7,2304.6 200.7,2290.6 193.8,2294.6" fill="#4a4a4c" /><polygon points="172.1,2343.2 189.4,2333.1 189.4,2330.1 172.1,2340.2" fill="#4a4a4c" /><polygon points="172.1,2337.2 189.4,2327.1 189.4,2324.1 172.1,2334.2" fill="#4a4a4c" /><polygon points="133.5,2262.6 180.4,2289.4 189.0,2284.4 142.2,2257.6" fill="#5e5e60" /><polygon points="180.4,2289.4 189.0,2284.4 189.0,2301.4 180.4,2306.4" fill="#4b4b4d" /><polygon points="112.3,2219.9 159.1,2246.8 159.1,2189.8 112.3,2162.9" fill="#efc58c" /><polygon points="159.1,2246.8 201.5,2222.2 201.5,2165.2 159.1,2189.8" fill="#e6b67a" /><polygon points="112.3,2162.9 159.1,2189.8 201.5,2165.2 154.7,2138.4" fill="#f7dbb0" /><polygon points="119.2,2190.9 129.6,2196.9 129.6,2180.9 119.2,2174.9" fill="#ffffff" /><polygon points="119.2,2213.9 124.4,2216.9 124.4,2204.9 119.2,2201.9" fill="#4a4a4c" /><polygon points="127.0,2218.4 132.2,2221.4 132.2,2209.4 127.0,2206.4" fill="#4a4a4c" /><polygon points="189.4,2199.2 196.3,2195.2 196.3,2181.2 189.4,2185.2" fill="#4a4a4c" /><polygon points="167.7,2233.8 185.1,2223.8 185.1,2220.8 167.7,2230.8" fill="#4a4a4c" /><polygon points="167.7,2227.8 185.1,2217.8 185.1,2214.8 167.7,2224.8" fill="#4a4a4c" /><polygon points="129.2,2153.2 176.0,2180.0 184.6,2175.0 137.8,2148.2" fill="#5e5e60" /><polygon points="176.0,2180.0 184.6,2175.0 184.6,2192.0 176.0,2197.0" fill="#4b4b4d" /><polygon points="159.1,2246.8 205.9,2273.6 205.9,2216.6 159.1,2189.8" fill="#efc58c" /><polygon points="205.9,2273.6 248.3,2249.1 248.3,2192.1 205.9,2216.6" fill="#e6b67a" /><polygon points="159.1,2189.8 205.9,2216.6 248.3,2192.1 201.5,2165.2" fill="#f7dbb0" /><polygon points="166.0,2217.8 176.4,2223.7 176.4,2207.7 166.0,2201.8" fill="#ffffff" /><polygon points="166.0,2240.8 171.2,2243.7 171.2,2231.7 166.0,2228.8" fill="#4a4a4c" /><polygon points="173.8,2245.2 179.0,2248.2 179.0,2236.2 173.8,2233.2" fill="#4a4a4c" /><polygon points="236.2,2226.1 243.1,2222.1 243.1,2208.1 236.2,2212.1" fill="#4a4a4c" /><polygon points="214.6,2260.6 231.9,2250.6 231.9,2247.6 214.6,2257.6" fill="#4a4a4c" /><polygon points="214.6,2254.6 231.9,2244.6 231.9,2241.6 214.6,2251.6" fill="#4a4a4c" /><polygon points="176.0,2180.0 222.8,2206.9 231.4,2201.8 184.6,2175.0" fill="#5e5e60" /><polygon points="222.8,2206.9 231.4,2201.8 231.4,2218.8 222.8,2223.9" fill="#4b4b4d" /><polygon points="69.8,2244.5 116.6,2271.3 116.6,2214.3 69.8,2187.5" fill="#efc58c" /><polygon points="116.6,2271.3 159.1,2246.8 159.1,2189.8 116.6,2214.3" fill="#e6b67a" /><polygon points="69.8,2187.5 116.6,2214.3 159.1,2189.8 112.3,2162.9" fill="#f7dbb0" /><polygon points="76.8,2215.5 87.2,2221.4 87.2,2205.4 76.8,2199.5" fill="#ffffff" /><polygon points="76.8,2238.5 82.0,2241.5 82.0,2229.5 76.8,2226.5" fill="#4a4a4c" /><polygon points="84.6,2242.9 89.8,2245.9 89.8,2233.9 84.6,2230.9" fill="#4a4a4c" /><polygon points="147.0,2223.8 153.9,2219.8 153.9,2205.8 147.0,2209.8" fill="#4a4a4c" /><polygon points="125.3,2258.3 142.6,2248.3 142.6,2245.3 125.3,2255.3" fill="#4a4a4c" /><polygon points="125.3,2252.3 142.6,2242.3 142.6,2239.3 125.3,2249.3" fill="#4a4a4c" /><polygon points="86.7,2177.7 133.5,2204.6 142.2,2199.6 95.4,2172.7" fill="#5e5e60" /><polygon points="133.5,2204.6 142.2,2199.6 142.2,2216.6 133.5,2221.6" fill="#4b4b4d" /><polygon points="116.6,2271.3 163.5,2298.2 163.5,2241.2 116.6,2214.3" fill="#efc58c" /><polygon points="163.5,2298.2 205.9,2273.6 205.9,2216.6 163.5,2241.2" fill="#e6b67a" /><polygon points="116.6,2214.3 163.5,2241.2 205.9,2216.6 159.1,2189.8" fill="#f7dbb0" /><polygon points="123.6,2242.3 134.0,2248.3 134.0,2232.3 123.6,2226.3" fill="#ffffff" /><polygon points="123.6,2265.3 128.8,2268.3 128.8,2256.3 123.6,2253.3" fill="#4a4a4c" /><polygon points="131.4,2269.8 136.6,2272.8 136.6,2260.8 131.4,2257.8" fill="#4a4a4c" /><polygon points="193.8,2250.6 200.7,2246.6 200.7,2232.6 193.8,2236.6" fill="#4a4a4c" /><polygon points="172.1,2285.2 189.4,2275.1 189.4,2272.1 172.1,2282.2" fill="#4a4a4c" /><polygon points="172.1,2279.2 189.4,2269.1 189.4,2266.1 172.1,2276.2" fill="#4a4a4c" /><polygon points="133.5,2204.6 180.4,2231.4 189.0,2226.4 142.2,2199.6" fill="#5e5e60" /><polygon points="180.4,2231.4 189.0,2226.4 189.0,2243.4 180.4,2248.4" fill="#4b4b4d" /></g>
<g transform="translate(582.2,1024.8) scale(0.663)"><path d="M296.8,1971.2 L395.3,2027.3" stroke="#4f4f51" stroke-width="9" fill="none" stroke-linecap="round"/><path d="M291,1975 L293,2140" stroke="#3d3d3f" stroke-width="9" fill="none"/><path d="M392,2030 L392,2200" stroke="#4f4f51" stroke-width="10" fill="none"/><path d="M276,1989 L372,2043 M262,1997 L357,2051" stroke="#3d3d3f" stroke-width="6" fill="none"/><polygon points="340.0,2105.0 385.0,2128.0 386.0,2200.0 340.0,2180.0" fill="#474749" /><polygon points="259.4,2209.3 300.0,2190.0 396.6,2199.3 396.0,2235.0 370.4,2254.2 301.8,2289.0 257.0,2266.7" fill="#4f4f51" /><polygon points="314.3,2184.4 379.0,2191.9 355.0,2225.0 331.7,2244.2 314.3,2209.3" fill="#f4b56a" /><ellipse cx="325" cy="2185" rx="22" ry="12" fill="#2e2e33"/><polygon points="342.0,2120.0 356.0,2112.0 358.0,2160.0 344.0,2170.0" fill="#2e2e33" /><polygon points="270.0,2180.0 300.0,2165.0 335.0,2200.0 330.0,2245.0 312.0,2245.0 310.0,2205.0 280.0,2200.0" fill="#4c5fa8" /><polygon points="290.0,2085.0 330.0,2078.0 345.0,2095.0 345.0,2150.0 330.0,2175.0 300.0,2180.0 285.0,2150.0" fill="#4c5fa8" /><polygon points="292.0,2080.0 312.0,2075.0 345.0,2088.0 347.0,2130.0 335.0,2135.0 330.0,2100.0 300.0,2098.0" fill="#88a6dc" /><circle cx="314" cy="2058" r="12" fill="#f2c4a8"/><path d="M300,2052 q14,-22 30,-2 z" fill="#f5a93a"/><polygon points="285.0,2120.0 300.0,2130.0 295.0,2150.0 280.0,2150.0" fill="#f2c4a8" /><ellipse cx="283" cy="2157" rx="14" ry="12" fill="none" stroke="#2a2a2e" stroke-width="4"/><path d="M283,2160 L266,2210" stroke="#2a2a2e" stroke-width="5"/><path d="M212,2090 L214.5,2040 Q220,2008 249.5,2004.9 L296.8,1971.2" stroke="#5e5e60" stroke-width="11" fill="none" stroke-linejoin="round"/><path d="M249.5,2004.9 L344.2,2058.5 L395.3,2027.3" stroke="#5e5e60" stroke-width="9" fill="none" stroke-linejoin="round"/><path d="M344.2,2058.5 Q314,2078 311,2120 L309,2259" stroke="#5e5e60" stroke-width="11" fill="none"/><polygon points="207.0,2092.0 221.0,2086.0 228.0,2090.0 228.0,2182.0 214.0,2187.0 207.0,2182.0" fill="#4f4f51" /><rect x="219.5" y="2099" width="24" height="9" fill="#f4b56a"/><rect x="219.5" y="2119" width="24" height="10" fill="#f4b56a"/><rect x="222" y="2110" width="7" height="90" fill="#ffffff"/><polygon points="240.7,2109.0 254.0,2103.0 260.7,2107.0 260.7,2212.0 247.0,2218.0 240.7,2212.0" fill="#5e5e60" /><polygon points="262.0,2210.0 300.0,2235.0 300.0,2290.0 262.0,2270.0" fill="#3d3d3f" /><polygon points="246.0,1977.0 262.0,1977.0 265.0,2004.0 243.0,2004.0" fill="#d9405e" /><ellipse cx="254" cy="1977" rx="8" ry="3" fill="#e86a85"/><ellipse cx="254" cy="2005" rx="12" ry="4" fill="#3d3d3f"/><ellipse cx="278.1" cy="2289" rx="18.0" ry="20" fill="#1f1f22"/><ellipse cx="280.1" cy="2289" rx="12.4" ry="14.399999999999999" fill="#ffffff"/><ellipse cx="280.1" cy="2289" rx="9.6" ry="11.200000000000001" fill="#1f1f22"/><ellipse cx="280.1" cy="2289" rx="3.5999999999999996" ry="4.4" fill="#ffffff"/><ellipse cx="386.6" cy="2229.3" rx="16.2" ry="18" fill="#1f1f22"/><ellipse cx="388.6" cy="2229.3" rx="11.16" ry="12.959999999999999" fill="#ffffff"/><ellipse cx="388.6" cy="2229.3" rx="8.64" ry="10.080000000000002" fill="#1f1f22"/><ellipse cx="388.6" cy="2229.3" rx="3.2399999999999998" ry="3.96" fill="#ffffff"/><polygon points="92.0,2330.0 112.0,2322.0 130.0,2332.0 110.0,2342.0" fill="#3d3d3f" /><polygon points="140.0,2360.0 160.0,2352.0 178.0,2362.0 158.0,2372.0" fill="#3d3d3f" /><polygon points="65.5,2318.0 164.3,2374.7 164.3,2360.7 65.5,2304.0" fill="#e8891f" /><polygon points="164.3,2374.7 253.5,2323.1 253.5,2309.1 164.3,2360.7" fill="#d4721a" /><polygon points="65.5,2304.0 164.3,2360.7 253.5,2309.1 154.7,2252.4" fill="#f29a34" /><polygon points="82.8,2327.9 95.8,2335.4 95.8,2327.4 82.8,2319.9" fill="#e8891f" /><polygon points="134.9,2357.8 147.9,2365.2 147.9,2357.2 134.9,2349.8" fill="#e8891f" /><rect x="170.0" y="2359.6" width="7" height="4" fill="#fff"/><rect x="188.2" y="2349.1" width="7" height="4" fill="#fff"/><rect x="206.4" y="2338.6" width="7" height="4" fill="#fff"/><rect x="224.6" y="2328.1" width="7" height="4" fill="#fff"/><rect x="242.7" y="2317.6" width="7" height="4" fill="#fff"/><polygon points="112.3,2277.9 159.1,2304.8 159.1,2247.8 112.3,2220.9" fill="#efc58c" /><polygon points="159.1,2304.8 201.5,2280.2 201.5,2223.2 159.1,2247.8" fill="#e6b67a" /><polygon points="112.3,2220.9 159.1,2247.8 201.5,2223.2 154.7,2196.4" fill="#f7dbb0" /><polygon points="119.2,2248.9 129.6,2254.9 129.6,2238.9 119.2,2232.9" fill="#ffffff" /><polygon points="119.2,2271.9 124.4,2274.9 124.4,2262.9 119.2,2259.9" fill="#4a4a4c" /><polygon points="127.0,2276.4 132.2,2279.4 132.2,2267.4 127.0,2264.4" fill="#4a4a4c" /><polygon points="189.4,2257.2 196.3,2253.2 196.3,2239.2 189.4,2243.2" fill="#4a4a4c" /><polygon points="167.7,2291.8 185.1,2281.8 185.1,2278.8 167.7,2288.8" fill="#4a4a4c" /><polygon points="167.7,2285.8 185.1,2275.8 185.1,2272.8 167.7,2282.8" fill="#4a4a4c" /><polygon points="129.2,2211.2 176.0,2238.0 184.6,2233.0 137.8,2206.2" fill="#5e5e60" /><polygon points="176.0,2238.0 184.6,2233.0 184.6,2250.0 176.0,2255.0" fill="#4b4b4d" /><polygon points="159.1,2304.8 205.9,2331.6 205.9,2274.6 159.1,2247.8" fill="#efc58c" /><polygon points="205.9,2331.6 248.3,2307.1 248.3,2250.1 205.9,2274.6" fill="#e6b67a" /><polygon points="159.1,2247.8 205.9,2274.6 248.3,2250.1 201.5,2223.2" fill="#f7dbb0" /><polygon points="166.0,2275.8 176.4,2281.7 176.4,2265.7 166.0,2259.8" fill="#ffffff" /><polygon points="166.0,2298.8 171.2,2301.7 171.2,2289.7 166.0,2286.8" fill="#4a4a4c" /><polygon points="173.8,2303.2 179.0,2306.2 179.0,2294.2 173.8,2291.2" fill="#4a4a4c" /><polygon points="236.2,2284.1 243.1,2280.1 243.1,2266.1 236.2,2270.1" fill="#4a4a4c" /><polygon points="214.6,2318.6 231.9,2308.6 231.9,2305.6 214.6,2315.6" fill="#4a4a4c" /><polygon points="214.6,2312.6 231.9,2302.6 231.9,2299.6 214.6,2309.6" fill="#4a4a4c" /><polygon points="176.0,2238.0 222.8,2264.9 231.4,2259.8 184.6,2233.0" fill="#5e5e60" /><polygon points="222.8,2264.9 231.4,2259.8 231.4,2276.8 222.8,2281.9" fill="#4b4b4d" /><polygon points="69.8,2302.5 116.6,2329.3 116.6,2272.3 69.8,2245.5" fill="#efc58c" /><polygon points="116.6,2329.3 159.1,2304.8 159.1,2247.8 116.6,2272.3" fill="#e6b67a" /><polygon points="69.8,2245.5 116.6,2272.3 159.1,2247.8 112.3,2220.9" fill="#f7dbb0" /><polygon points="76.8,2273.5 87.2,2279.4 87.2,2263.4 76.8,2257.5" fill="#ffffff" /><polygon points="76.8,2296.5 82.0,2299.5 82.0,2287.5 76.8,2284.5" fill="#4a4a4c" /><polygon points="84.6,2300.9 89.8,2303.9 89.8,2291.9 84.6,2288.9" fill="#4a4a4c" /><polygon points="147.0,2281.8 153.9,2277.8 153.9,2263.8 147.0,2267.8" fill="#4a4a4c" /><polygon points="125.3,2316.3 142.6,2306.3 142.6,2303.3 125.3,2313.3" fill="#4a4a4c" /><polygon points="125.3,2310.3 142.6,2300.3 142.6,2297.3 125.3,2307.3" fill="#4a4a4c" /><polygon points="86.7,2235.7 133.5,2262.6 142.2,2257.6 95.4,2230.7" fill="#5e5e60" /><polygon points="133.5,2262.6 142.2,2257.6 142.2,2274.6 133.5,2279.6" fill="#4b4b4d" /><polygon points="116.6,2329.3 163.5,2356.2 163.5,2299.2 116.6,2272.3" fill="#efc58c" /><polygon points="163.5,2356.2 205.9,2331.6 205.9,2274.6 163.5,2299.2" fill="#e6b67a" /><polygon points="116.6,2272.3 163.5,2299.2 205.9,2274.6 159.1,2247.8" fill="#f7dbb0" /><polygon points="123.6,2300.3 134.0,2306.3 134.0,2290.3 123.6,2284.3" fill="#ffffff" /><polygon points="123.6,2323.3 128.8,2326.3 128.8,2314.3 123.6,2311.3" fill="#4a4a4c" /><polygon points="131.4,2327.8 136.6,2330.8 136.6,2318.8 131.4,2315.8" fill="#4a4a4c" /><polygon points="193.8,2308.6 200.7,2304.6 200.7,2290.6 193.8,2294.6" fill="#4a4a4c" /><polygon points="172.1,2343.2 189.4,2333.1 189.4,2330.1 172.1,2340.2" fill="#4a4a4c" /><polygon points="172.1,2337.2 189.4,2327.1 189.4,2324.1 172.1,2334.2" fill="#4a4a4c" /><polygon points="133.5,2262.6 180.4,2289.4 189.0,2284.4 142.2,2257.6" fill="#5e5e60" /><polygon points="180.4,2289.4 189.0,2284.4 189.0,2301.4 180.4,2306.4" fill="#4b4b4d" /><polygon points="112.3,2219.9 159.1,2246.8 159.1,2189.8 112.3,2162.9" fill="#efc58c" /><polygon points="159.1,2246.8 201.5,2222.2 201.5,2165.2 159.1,2189.8" fill="#e6b67a" /><polygon points="112.3,2162.9 159.1,2189.8 201.5,2165.2 154.7,2138.4" fill="#f7dbb0" /><polygon points="119.2,2190.9 129.6,2196.9 129.6,2180.9 119.2,2174.9" fill="#ffffff" /><polygon points="119.2,2213.9 124.4,2216.9 124.4,2204.9 119.2,2201.9" fill="#4a4a4c" /><polygon points="127.0,2218.4 132.2,2221.4 132.2,2209.4 127.0,2206.4" fill="#4a4a4c" /><polygon points="189.4,2199.2 196.3,2195.2 196.3,2181.2 189.4,2185.2" fill="#4a4a4c" /><polygon points="167.7,2233.8 185.1,2223.8 185.1,2220.8 167.7,2230.8" fill="#4a4a4c" /><polygon points="167.7,2227.8 185.1,2217.8 185.1,2214.8 167.7,2224.8" fill="#4a4a4c" /><polygon points="129.2,2153.2 176.0,2180.0 184.6,2175.0 137.8,2148.2" fill="#5e5e60" /><polygon points="176.0,2180.0 184.6,2175.0 184.6,2192.0 176.0,2197.0" fill="#4b4b4d" /><polygon points="159.1,2246.8 205.9,2273.6 205.9,2216.6 159.1,2189.8" fill="#efc58c" /><polygon points="205.9,2273.6 248.3,2249.1 248.3,2192.1 205.9,2216.6" fill="#e6b67a" /><polygon points="159.1,2189.8 205.9,2216.6 248.3,2192.1 201.5,2165.2" fill="#f7dbb0" /><polygon points="166.0,2217.8 176.4,2223.7 176.4,2207.7 166.0,2201.8" fill="#ffffff" /><polygon points="166.0,2240.8 171.2,2243.7 171.2,2231.7 166.0,2228.8" fill="#4a4a4c" /><polygon points="173.8,2245.2 179.0,2248.2 179.0,2236.2 173.8,2233.2" fill="#4a4a4c" /><polygon points="236.2,2226.1 243.1,2222.1 243.1,2208.1 236.2,2212.1" fill="#4a4a4c" /><polygon points="214.6,2260.6 231.9,2250.6 231.9,2247.6 214.6,2257.6" fill="#4a4a4c" /><polygon points="214.6,2254.6 231.9,2244.6 231.9,2241.6 214.6,2251.6" fill="#4a4a4c" /><polygon points="176.0,2180.0 222.8,2206.9 231.4,2201.8 184.6,2175.0" fill="#5e5e60" /><polygon points="222.8,2206.9 231.4,2201.8 231.4,2218.8 222.8,2223.9" fill="#4b4b4d" /><polygon points="69.8,2244.5 116.6,2271.3 116.6,2214.3 69.8,2187.5" fill="#efc58c" /><polygon points="116.6,2271.3 159.1,2246.8 159.1,2189.8 116.6,2214.3" fill="#e6b67a" /><polygon points="69.8,2187.5 116.6,2214.3 159.1,2189.8 112.3,2162.9" fill="#f7dbb0" /><polygon points="76.8,2215.5 87.2,2221.4 87.2,2205.4 76.8,2199.5" fill="#ffffff" /><polygon points="76.8,2238.5 82.0,2241.5 82.0,2229.5 76.8,2226.5" fill="#4a4a4c" /><polygon points="84.6,2242.9 89.8,2245.9 89.8,2233.9 84.6,2230.9" fill="#4a4a4c" /><polygon points="147.0,2223.8 153.9,2219.8 153.9,2205.8 147.0,2209.8" fill="#4a4a4c" /><polygon points="125.3,2258.3 142.6,2248.3 142.6,2245.3 125.3,2255.3" fill="#4a4a4c" /><polygon points="125.3,2252.3 142.6,2242.3 142.6,2239.3 125.3,2249.3" fill="#4a4a4c" /><polygon points="86.7,2177.7 133.5,2204.6 142.2,2199.6 95.4,2172.7" fill="#5e5e60" /><polygon points="133.5,2204.6 142.2,2199.6 142.2,2216.6 133.5,2221.6" fill="#4b4b4d" /><polygon points="116.6,2271.3 163.5,2298.2 163.5,2241.2 116.6,2214.3" fill="#efc58c" /><polygon points="163.5,2298.2 205.9,2273.6 205.9,2216.6 163.5,2241.2" fill="#e6b67a" /><polygon points="116.6,2214.3 163.5,2241.2 205.9,2216.6 159.1,2189.8" fill="#f7dbb0" /><polygon points="123.6,2242.3 134.0,2248.3 134.0,2232.3 123.6,2226.3" fill="#ffffff" /><polygon points="123.6,2265.3 128.8,2268.3 128.8,2256.3 123.6,2253.3" fill="#4a4a4c" /><polygon points="131.4,2269.8 136.6,2272.8 136.6,2260.8 131.4,2257.8" fill="#4a4a4c" /><polygon points="193.8,2250.6 200.7,2246.6 200.7,2232.6 193.8,2236.6" fill="#4a4a4c" /><polygon points="172.1,2285.2 189.4,2275.1 189.4,2272.1 172.1,2282.2" fill="#4a4a4c" /><polygon points="172.1,2279.2 189.4,2269.1 189.4,2266.1 172.1,2276.2" fill="#4a4a4c" /><polygon points="133.5,2204.6 180.4,2231.4 189.0,2226.4 142.2,2199.6" fill="#5e5e60" /><polygon points="180.4,2231.4 189.0,2226.4 189.0,2243.4 180.4,2248.4" fill="#4b4b4d" /></g>
<g filter="url(#sh)"><polygon points="227.9,2533.4 379.0,2621.6 379.0,2613.6 227.9,2525.4" fill="#f7b733" /><polygon points="379.0,2621.6 400.6,2609.0 400.6,2601.0 379.0,2613.6" fill="#e79a1e" /><polygon points="227.9,2525.4 379.0,2613.6 400.6,2601.0 249.5,2512.8" fill="#fbd06a" /><polygon points="293.5,2495.0 444.7,2583.2 444.7,2575.2 293.5,2487.0" fill="#f7b733" /><polygon points="444.7,2583.2 466.3,2570.6 466.3,2562.6 444.7,2575.2" fill="#e79a1e" /><polygon points="293.5,2487.0 444.7,2575.2 466.3,2562.6 315.1,2474.4" fill="#fbd06a" /><polygon points="359.2,2456.7 510.3,2544.9 510.3,2536.9 359.2,2448.7" fill="#f7b733" /><polygon points="510.3,2544.9 531.9,2532.3 531.9,2524.3 510.3,2536.9" fill="#e79a1e" /><polygon points="359.2,2448.7 510.3,2536.9 531.9,2524.3 380.8,2436.0" fill="#fbd06a" /><polygon points="227.9,2525.4 249.5,2538.0 249.5,2523.0 227.9,2510.4" fill="#f7b733" /><polygon points="249.5,2538.0 271.1,2525.4 271.1,2510.4 249.5,2523.0" fill="#e79a1e" /><polygon points="227.9,2510.4 249.5,2523.0 271.1,2510.4 249.5,2497.8" fill="#fbd06a" /><polygon points="293.5,2487.0 315.1,2499.6 315.1,2484.6 293.5,2472.0" fill="#f7b733" /><polygon points="315.1,2499.6 336.7,2487.0 336.7,2472.0 315.1,2484.6" fill="#e79a1e" /><polygon points="293.5,2472.0 315.1,2484.6 336.7,2472.0 315.1,2459.4" fill="#fbd06a" /><polygon points="359.2,2448.7 380.8,2461.3 380.8,2446.3 359.2,2433.7" fill="#f7b733" /><polygon points="380.8,2461.3 402.3,2448.6 402.3,2433.6 380.8,2446.3" fill="#e79a1e" /><polygon points="359.2,2433.7 380.8,2446.3 402.3,2433.6 380.8,2421.0" fill="#fbd06a" /><polygon points="292.7,2563.2 314.3,2575.8 314.3,2560.8 292.7,2548.2" fill="#f7b733" /><polygon points="314.3,2575.8 335.8,2563.2 335.8,2548.2 314.3,2560.8" fill="#e79a1e" /><polygon points="292.7,2548.2 314.3,2560.8 335.8,2548.2 314.3,2535.6" fill="#fbd06a" /><polygon points="358.3,2524.8 379.9,2537.4 379.9,2522.4 358.3,2509.8" fill="#f7b733" /><polygon points="379.9,2537.4 401.5,2524.8 401.5,2509.8 379.9,2522.4" fill="#e79a1e" /><polygon points="358.3,2509.8 379.9,2522.4 401.5,2509.8 379.9,2497.2" fill="#fbd06a" /><polygon points="423.9,2486.5 445.5,2499.1 445.5,2484.1 423.9,2471.5" fill="#f7b733" /><polygon points="445.5,2499.1 467.1,2486.4 467.1,2471.4 445.5,2484.1" fill="#e79a1e" /><polygon points="423.9,2471.5 445.5,2484.1 467.1,2471.4 445.5,2458.8" fill="#fbd06a" /><polygon points="357.4,2601.0 379.0,2613.6 379.0,2598.6 357.4,2586.0" fill="#f7b733" /><polygon points="379.0,2613.6 400.6,2601.0 400.6,2586.0 379.0,2598.6" fill="#e79a1e" /><polygon points="357.4,2586.0 379.0,2598.6 400.6,2586.0 379.0,2573.4" fill="#fbd06a" /><polygon points="423.1,2562.6 444.7,2575.2 444.7,2560.2 423.1,2547.6" fill="#f7b733" /><polygon points="444.7,2575.2 466.3,2562.6 466.3,2547.6 444.7,2560.2" fill="#e79a1e" /><polygon points="423.1,2547.6 444.7,2560.2 466.3,2547.6 444.7,2535.0" fill="#fbd06a" /><polygon points="488.7,2524.3 510.3,2536.9 510.3,2521.9 488.7,2509.3" fill="#f7b733" /><polygon points="510.3,2536.9 531.9,2524.3 531.9,2509.3 510.3,2521.9" fill="#e79a1e" /><polygon points="488.7,2509.3 510.3,2521.9 531.9,2509.3 510.3,2496.6" fill="#fbd06a" /><polygon points="227.9,2510.4 379.0,2598.6 379.0,2592.6 227.9,2504.4" fill="#f7b733" /><polygon points="379.0,2598.6 531.9,2509.3 531.9,2503.3 379.0,2592.6" fill="#e79a1e" /><polygon points="227.9,2504.4 379.0,2592.6 531.9,2503.3 380.8,2415.0" fill="#fbd06a" /><polygon points="227.9,2504.4 379.0,2592.6 379.0,2588.6 227.9,2500.4" fill="#f0a628" /><polygon points="379.0,2592.6 531.9,2503.3 531.9,2499.3 379.0,2588.6" fill="#e79a1e" /><polygon points="227.9,2500.4 379.0,2588.6 531.9,2499.3 380.8,2411.0" fill="#fbd06a" /><polygon points="227.9,2500.4 379.0,2588.6 379.0,2522.6 227.9,2434.4" fill="#e6a576" /><polygon points="379.0,2588.6 531.9,2499.3 531.9,2433.3 379.0,2522.6" fill="#e9a978" /><polygon points="227.9,2434.4 379.0,2522.6 531.9,2433.3 380.8,2345.0" fill="#efb07f" /><path d="M456.3,2389.1 L303.5,2478.5 L303.5,2544.5" fill="none" stroke="#c98a5c" stroke-width="1.2"/><polygon points="252.9,2449.0 263.3,2455.1 416.2,2365.7 405.8,2359.7" fill="#f5d193" /><polygon points="252.9,2465.0 263.3,2471.1 263.3,2455.1 252.9,2449.0" fill="#f5d193" /><polygon points="328.5,2493.1 338.9,2499.2 491.7,2409.8 481.4,2403.8" fill="#f5d193" /><polygon points="328.5,2509.1 338.9,2515.2 338.9,2499.2 328.5,2493.1" fill="#f5d193" /><polygon points="284.0,2445.7 295.4,2452.3 306.8,2445.6 295.5,2439.0" fill="none" stroke="#111" stroke-width="1.3" /><ellipse cx="295.3" cy="2445.6" rx="3.2" ry="2.2" fill="#111"/><polygon points="297.0,2438.1 308.4,2444.8 319.8,2438.0 308.5,2431.4" fill="none" stroke="#111" stroke-width="1.3" /><ellipse cx="308.3" cy="2438.0" rx="3.2" ry="2.2" fill="#111"/><polygon points="310.0,2430.5 321.3,2437.2 332.8,2430.5 321.5,2423.8" fill="none" stroke="#111" stroke-width="1.3" /><ellipse cx="321.3" cy="2430.5" rx="3.2" ry="2.2" fill="#111"/><polygon points="359.6,2489.8 370.9,2496.5 382.4,2489.8 371.1,2483.1" fill="none" stroke="#111" stroke-width="1.3" /><ellipse cx="370.9" cy="2489.8" rx="3.2" ry="2.2" fill="#111"/><polygon points="372.6,2482.2 383.9,2488.9 395.4,2482.2 384.0,2475.5" fill="none" stroke="#111" stroke-width="1.3" /><ellipse cx="383.9" cy="2482.2" rx="3.2" ry="2.2" fill="#111"/><polygon points="385.6,2474.6 396.9,2481.3 408.4,2474.6 397.0,2467.9" fill="none" stroke="#111" stroke-width="1.3" /><ellipse cx="396.9" cy="2474.6" rx="3.2" ry="2.2" fill="#111"/><g transform="translate(273.2,2481.9) skewY(30)"><rect x="-9" y="-5" width="18" height="9" fill="#dfe3ea" stroke="#777" stroke-width="0.8"/></g><g transform="translate(348.8,2526.0) skewY(30)"><rect x="-9" y="-5" width="18" height="9" fill="#dfe3ea" stroke="#777" stroke-width="0.8"/></g></g>
<g transform="translate(-690.1,631.0) scale(1.155)"><g filter="url(#sh)"><rect x="1401.5" y="1659.2" width="284" height="10.5" fill="#55739c"/><rect x="1401.5" y="1659.2" width="36" height="10.5" fill="#3e5a82"/><rect x="1422.4" y="1669.7" width="23" height="21.3" fill="#3f5a80"/><rect x="1467.3" y="1669.7" width="23" height="21.3" fill="#3f5a80"/><rect x="1513.2" y="1669.7" width="23" height="21.3" fill="#3f5a80"/><rect x="1557.1" y="1669.7" width="23" height="21.3" fill="#3f5a80"/><rect x="1603" y="1669.7" width="23" height="21.3" fill="#3f5a80"/><rect x="1648" y="1669.7" width="23" height="21.3" fill="#3f5a80"/><rect x="1401.5" y="1691" width="284" height="10.4" fill="#55739c"/><rect x="1401.5" y="1691" width="36" height="10.4" fill="#3e5a82"/><rect x="1520.6" y="1500.3" width="97.1" height="80" fill="#f2b87c"/><rect x="1520.6" y="1500.3" width="25" height="80" fill="#dc8b55"/><rect x="1448.5" y="1542.3" width="89.8" height="70" fill="#f2b87c"/><rect x="1448.5" y="1542.3" width="19.8" height="70" fill="#dc8b55"/><rect x="1473" y="1559" width="65" height="10" fill="#e8a86b"/><rect x="1564" y="1543.7" width="83" height="60" fill="#f2b87c"/><rect x="1572" y="1543.7" width="16" height="25" fill="#dc8b55"/><rect x="1554" y="1538" width="62" height="6" fill="#e8a86b"/><rect x="1484" y="1568.8" width="26" height="90.4" fill="#dc8b55"/><rect x="1510.1" y="1568.8" width="93" height="90.4" fill="#f2b87c"/><rect x="1420.3" y="1601.2" width="75.2" height="58" fill="#f2b87c"/><rect x="1420.3" y="1601.2" width="16.7" height="58" fill="#dc8b55"/><rect x="1479" y="1601.2" width="16" height="58" fill="#e8a86b"/><rect x="1603.1" y="1601.2" width="63.7" height="58" fill="#f2b87c"/><rect x="1603.1" y="1601.2" width="5" height="58" fill="#dc8b55"/><rect x="1577" y="1501" width="17" height="21" fill="#f7d3b5"/><rect x="1544" y="1542.5" width="19" height="16" fill="#f7d3b5"/><rect x="1543" y="1569" width="24" height="23" fill="#f7d3b5"/><rect x="1613" y="1544" width="10" height="14" fill="#f7d3b5"/><rect x="1613" y="1587" width="10" height="14" fill="#f7d3b5"/><rect x="1458" y="1602" width="16" height="15" fill="#f7d3b5"/><rect x="1460" y="1645" width="16" height="14" fill="#f7d3b5"/><rect x="1543" y="1636" width="24" height="23" fill="#f7d3b5"/><rect x="1629" y="1602" width="16" height="15" fill="#f7d3b5"/><rect x="1629" y="1645" width="16" height="14" fill="#f7d3b5"/><rect x="1439.5" y="1648" width="14.5" height="7.5" fill="#fff"/><rect x="1440.5" y="1649.2" width="1" height="5.1" fill="#222"/><rect x="1442.3" y="1649.2" width="1" height="5.1" fill="#222"/><rect x="1445.9" y="1649.2" width="1" height="5.1" fill="#222"/><rect x="1447.7" y="1649.2" width="1" height="5.1" fill="#222"/><rect x="1451.3" y="1649.2" width="1" height="5.1" fill="#222"/><rect x="1453.1" y="1649.2" width="1" height="5.1" fill="#222"/><rect x="1515.5" y="1641" width="23" height="12" fill="#fff"/><rect x="1516.5" y="1642.2" width="1" height="9.6" fill="#222"/><rect x="1518.3" y="1642.2" width="1" height="9.6" fill="#222"/><rect x="1521.9" y="1642.2" width="1" height="9.6" fill="#222"/><rect x="1523.7" y="1642.2" width="1" height="9.6" fill="#222"/><rect x="1527.3" y="1642.2" width="1" height="9.6" fill="#222"/><rect x="1529.1" y="1642.2" width="1" height="9.6" fill="#222"/><rect x="1532.7" y="1642.2" width="1" height="9.6" fill="#222"/><rect x="1534.5" y="1642.2" width="1" height="9.6" fill="#222"/><rect x="1628" y="1590" width="15" height="7.5" fill="#fff"/><rect x="1629.0" y="1591.2" width="1" height="5.1" fill="#222"/><rect x="1630.8" y="1591.2" width="1" height="5.1" fill="#222"/><rect x="1634.4" y="1591.2" width="1" height="5.1" fill="#222"/><rect x="1636.2" y="1591.2" width="1" height="5.1" fill="#222"/><rect x="1639.8" y="1591.2" width="1" height="5.1" fill="#222"/><rect x="1641.6" y="1591.2" width="1" height="5.1" fill="#222"/><rect x="1610.5" y="1648" width="15" height="7.5" fill="#fff"/><rect x="1611.5" y="1649.2" width="1" height="5.1" fill="#222"/><rect x="1613.3" y="1649.2" width="1" height="5.1" fill="#222"/><rect x="1616.9" y="1649.2" width="1" height="5.1" fill="#222"/><rect x="1618.7" y="1649.2" width="1" height="5.1" fill="#222"/><rect x="1622.3" y="1649.2" width="1" height="5.1" fill="#222"/><rect x="1624.1" y="1649.2" width="1" height="5.1" fill="#222"/><rect x="1471" y="1597" width="13" height="4" fill="#fff"/><rect x="1472.0" y="1598.2" width="1" height="1.6" fill="#222"/><rect x="1473.8" y="1598.2" width="1" height="1.6" fill="#222"/><rect x="1477.4" y="1598.2" width="1" height="1.6" fill="#222"/><rect x="1479.2" y="1598.2" width="1" height="1.6" fill="#222"/><rect x="1482.8" y="1598.2" width="1" height="1.6" fill="#222"/></g></g>
<g filter="url(#sh)">
<circle cx="1490.5" cy="2469" r="121" fill="url(#gtire)"/>
<circle cx="1490.5" cy="2469" r="118" fill="none" stroke="#2c2c30" stroke-width="3" stroke-dasharray="2 3"/>
<circle cx="1490.5" cy="2469" r="95" fill="none" stroke="#2a2a2e" stroke-width="2"/>
<circle cx="1491.5" cy="2469" r="79" fill="#c4c4ca"/>
<circle cx="1491.5" cy="2469" r="72" fill="#3c3e48"/>
<polygon points="1481.5,2451.7 1470.4,2400.1 1512.6,2400.1 1501.5,2451.7" fill="#d6d6db" />
<polygon points="1487.8,2439.2 1487.3,2409.1 1495.7,2409.1 1495.2,2439.2" fill="#ececf0" />
<polygon points="1504.9,2454.1 1550.5,2427.7 1563.5,2467.7 1511.1,2473.2" fill="#d6d6db" />
<polygon points="1518.7,2456.3 1547.1,2446.5 1549.7,2454.5 1520.9,2463.3" fill="#ececf0" />
<polygon points="1509.8,2477.1 1549.0,2512.3 1514.9,2537.1 1493.6,2488.9" fill="#d6d6db" />
<polygon points="1512.0,2490.9 1530.1,2515.0 1523.3,2519.9 1506.0,2495.2" fill="#ececf0" />
<polygon points="1489.4,2488.9 1468.1,2537.1 1434.0,2512.3 1473.2,2477.1" fill="#d6d6db" />
<polygon points="1477.0,2495.2 1459.7,2519.9 1452.9,2515.0 1471.0,2490.9" fill="#ececf0" />
<polygon points="1471.9,2473.2 1419.5,2467.7 1432.5,2427.7 1478.1,2454.1" fill="#d6d6db" />
<polygon points="1462.1,2463.3 1433.3,2454.5 1435.9,2446.5 1464.3,2456.3" fill="#ececf0" />
<circle cx="1491.5" cy="2469" r="72" fill="none" stroke="#b9b9c0" stroke-width="6"/>
<circle cx="1491.5" cy="2469" r="22" fill="#c4c4ca" stroke="#9a9aa2" stroke-width="2"/><circle cx="1491.5" cy="2469" r="8" fill="#8a8a92"/>
</g>
<defs><linearGradient id="gst" x1="0" y1="0" x2="1" y2="1"><stop offset="0" stop-color="#8e8e94"/><stop offset="0.5" stop-color="#d8d8dc"/><stop offset="1" stop-color="#7d7d84"/></linearGradient><radialGradient id="gpl" cx="0.55" cy="0.5" r="0.6"><stop offset="0" stop-color="#f4f4f6"/><stop offset="1" stop-color="#a9a9ae"/></radialGradient></defs>
<g filter="url(#sh)">
<polygon points="1743.4,2393.4 2000.4,2405.8 2000.4,2542.4 1743.4,2554.4" fill="url(#gst)" />
<polygon points="1743.4,2393.4 1755.0,2397.0 1755.0,2551.0 1743.4,2554.4" fill="#b9b9be" />
<polygon points="1767.0,2415.6 1982.6,2422.0 1982.6,2531.2 1767.0,2537.0" fill="url(#gpl)" />
<circle cx="1770" cy="2402" r="3.2" fill="#e6e6ea" stroke="#6a6a70" stroke-width="1"/>
<circle cx="1887" cy="2407" r="3.2" fill="#e6e6ea" stroke="#6a6a70" stroke-width="1"/>
<circle cx="1988" cy="2411" r="3.2" fill="#e6e6ea" stroke="#6a6a70" stroke-width="1"/>
<circle cx="1762" cy="2417" r="3.2" fill="#e6e6ea" stroke="#6a6a70" stroke-width="1"/>
<circle cx="1992" cy="2425" r="3.2" fill="#e6e6ea" stroke="#6a6a70" stroke-width="1"/>
<circle cx="1770" cy="2545" r="3.2" fill="#e6e6ea" stroke="#6a6a70" stroke-width="1"/>
<circle cx="1887" cy="2538" r="3.2" fill="#e6e6ea" stroke="#6a6a70" stroke-width="1"/>
<circle cx="1988" cy="2535" r="3.2" fill="#e6e6ea" stroke="#6a6a70" stroke-width="1"/>
<circle cx="1762" cy="2530" r="3.2" fill="#e6e6ea" stroke="#6a6a70" stroke-width="1"/>
<circle cx="1992" cy="2520" r="3.2" fill="#e6e6ea" stroke="#6a6a70" stroke-width="1"/>
</g>
</svg>
<svg class="a" style="left:0;top:0" width="2129" height="3600" viewBox="0 0 2129 3600">
<g filter="url(#sh)"><g transform="rotate(-6.8 400 3010)"><path d="M160,3116 L170,3116 L172,3150 L167,3150Z" fill="#c9a87a"/><path d="M636,3116 L646,3116 L646,3148 L641,3148Z" fill="#c9a87a"/><rect x="158" y="2898" width="474" height="200" rx="30" fill="#1b3a8a" stroke="#2b4c9c" stroke-width="1.5"/><rect x="176" y="3062" width="446" height="56" fill="#2b6fc0"/><rect x="180" y="3040" width="222" height="62" rx="16" fill="#2a63ab"/><rect x="404" y="3040" width="216" height="62" rx="16" fill="#2a63ab"/><path d="M180,3045 Q185,3000 290,2998 Q400,3000 402,3040 Q398,3072 290,3075 Q182,3075 180,3045Z" fill="#1f7fc4"/><path d="M404,3040 Q408,2995 515,2993 Q618,2997 620,3035 Q616,3068 515,3072 Q406,3072 404,3040Z" fill="#1f7fc4"/><rect x="132" y="2978" width="47" height="141" rx="12" fill="#2b70c2"/><rect x="619" y="2972" width="47" height="146" rx="12" fill="#2b70c2"/></g></g>
<g filter="url(#sh)"><polygon points="342.4,3177.0 496.5,3177.0 496.5,3467.6 342.4,3467.6" fill="#d99468" /><polygon points="496.5,3177.0 541.0,3147.4 541.0,3438.0 496.5,3467.6" fill="#c47b52" /><polygon points="386.8,3147.4 541.0,3147.4 496.5,3177.0 342.4,3177.0" fill="#e3a880" /><polygon points="414.8,3177.0 434.9,3177.0 434.9,3313.6 414.8,3313.6" fill="#ecd3b0" /><polygon points="414.8,3426.9 434.9,3426.9 434.9,3467.6 414.8,3467.6" fill="#ecd3b0" opacity="0.9"/><polygon points="459.3,3147.4 479.3,3147.4 434.9,3177.0 414.8,3177.0" fill="#ecd3b0" /><polygon points="368.2,3159.8 522.3,3159.8 514.3,3165.2 360.2,3165.2" fill="#ecd3b0" opacity="0.8"/><polygon points="514.3,3165.2 529.9,3154.8 529.9,3262.3 514.3,3272.7" fill="#ecd3b0" opacity="0.85"/><polygon points="514.3,3377.3 529.9,3366.9 529.9,3430.9 514.3,3441.2" fill="#ecd3b0" opacity="0.85"/><g transform="translate(360.89199999999994,3444.352) scale(0.41735416666666675)"><rect x="-24" y="-24" width="48" height="48" fill="none" stroke="#3a3a3a" stroke-width="3.35"/><path d="M-16,-4 q16,-22 32,0z" fill="#3a3a3a"/><path d="M0,-4 v14 q0,5 -5,3" fill="none" stroke="#3a3a3a" stroke-width="3"/></g><g transform="translate(384.00699999999995,3444.352) scale(0.41735416666666675)"><rect x="-24" y="-24" width="48" height="48" fill="none" stroke="#3a3a3a" stroke-width="3.35"/><path d="M-8,12 v-20 M8,12 v-20 M-15,15 h30" stroke="#3a3a3a" stroke-width="3.5"/><path d="M-14,-7 l6,-11 l6,11z M2,-7 l6,-11 l6,11z" fill="#3a3a3a"/></g><g transform="translate(407.122,3444.352) scale(0.41735416666666675)"><rect x="-24" y="-24" width="48" height="48" fill="none" stroke="#3a3a3a" stroke-width="3.35"/><path d="M-14,-15 h28 q0,16 -14,18 q-14,-2 -14,-18z" fill="#3a3a3a"/><path d="M0,3 v10 M-9,14 h18" stroke="#3a3a3a" stroke-width="3"/></g></g>
<g filter="url(#sh)"><polygon points="875.5,3125.9 933.1,3133.9 933.1,3370.4 875.5,3372.4" fill="#5a5a5c" /><polygon points="1124.0,3133.9 1183.6,3125.0 1183.6,3368.4 1124.0,3372.4" fill="#5a5a5c" /><rect x="934" y="3128" width="190" height="276" rx="5" fill="#5b5b5d"/><rect x="941.9" y="3137.8" width="174.1" height="226.7" fill="#1f2d4d"/><rect x="941.9" y="3240.4" width="56.8" height="68.4" fill="#f0a850"/><rect x="998.7" y="3289" width="68.8" height="19.8" fill="#f8c060"/><rect x="941.9" y="3308.8" width="67.6" height="55.7" fill="#f9c565"/><rect x="1009.5" y="3308.8" width="58" height="55.7" fill="#f0a850"/><rect x="1067.5" y="3308.8" width="48.5" height="55.7" fill="#f9c565"/><rect x="951" y="3375.6" width="22.7" height="11.9" fill="none" stroke="#fff" stroke-width="1.5"/><line x1="962.3" y1="3375.6" x2="962.3" y2="3387.5" stroke="#fff" stroke-width="1.5"/><rect x="1087.4" y="3375.6" width="22.7" height="11.9" fill="none" stroke="#fff" stroke-width="1.5"/><line x1="1098.7" y1="3375.6" x2="1098.7" y2="3387.5" stroke="#fff" stroke-width="1.5"/><rect x="963.8" y="3404" width="19.8" height="27.3" rx="4" fill="#1d2a4a"/><rect x="1078.3" y="3404" width="19.8" height="27.3" rx="4" fill="#1d2a4a"/><circle cx="821" cy="3252" r="9" fill="#f2b49a"/><path d="M811,3247 q10,-18 21,-2 q-4,-8 -10,-8 q-8,-3 -11,10z" fill="#1d2340"/><circle cx="820" cy="3237" r="5" fill="#1d2340"/><polygon points="809.0,3268.0 832.0,3268.0 840.0,3300.0 833.0,3340.0 836.0,3372.0 806.0,3372.0 809.0,3340.0 800.0,3300.0" fill="#ef9130" /><rect x="802" y="3300" width="22" height="15" fill="#1d2340"/><path d="M813,3372 L811,3440 M828,3372 L826,3440" stroke="#f2b49a" stroke-width="7"/><path d="M806,3442 h10 M821,3442 h10" stroke="#1d2340" stroke-width="4"/><circle cx="902" cy="3232" r="11" fill="#f2b49a"/><path d="M888,3228 q12,-20 28,-4 l-26,2z" fill="#1f4aa8"/><rect x="883" y="3223" width="10" height="4" fill="#1f4aa8"/><polygon points="890.0,3245.0 915.0,3245.0 927.0,3280.0 924.0,3318.0 895.0,3318.0" fill="#2a4f9e" /><polygon points="895.0,3318.0 924.0,3318.0 927.0,3440.0 912.0,3440.0 910.0,3350.0 904.0,3440.0 892.0,3440.0" fill="#1d46a6" /><path d="M890,3442 h24" stroke="#1d2340" stroke-width="5"/><rect x="843.7" y="3253" width="45" height="38" fill="#f3b35a"/><rect x="843.7" y="3253" width="45" height="7" fill="#f8c872"/><path d="M865,3293 L895,3290" stroke="#2a4f9e" stroke-width="9"/><circle cx="1163" cy="3232" r="11" fill="#f2b49a"/><path d="M1151,3228 q12,-20 25,-2z" fill="#1f4aa8"/><polygon points="1148.0,3245.0 1180.0,3245.0 1187.0,3320.0 1150.0,3320.0" fill="#2a4f9e" /><path d="M1146,3260 L1138,3290 L1138,3270" stroke="#2a4f9e" stroke-width="9" fill="none"/><circle cx="1139" cy="3262" r="6" fill="#f2b49a"/><polygon points="1150.0,3320.0 1187.0,3320.0 1185.0,3440.0 1172.0,3440.0 1168.0,3355.0 1163.0,3440.0 1150.0,3440.0" fill="#1d46a6" /><path d="M1148,3442 h20 M1170,3442 h18" stroke="#1d2340" stroke-width="5"/><path d="M1202,3252 Q1195,3190 1267,3148 Q1265,3220 1215,3252Z" fill="#184e2c"/><path d="M1230,3252 Q1255,3205 1323,3205 Q1290,3250 1240,3254Z" fill="#1a5530"/><path d="M1207,3250 Q1230,3190 1262,3160" stroke="#3e7a55" stroke-width="1.2" fill="none"/><rect x="1185.6" y="3251" width="79.4" height="66" fill="#f0ad55"/><rect x="1185.6" y="3251" width="79.4" height="9" fill="#f7c065"/><rect x="1185.6" y="3317" width="79.4" height="66" fill="#f0ad55"/><rect x="1185.6" y="3317" width="79.4" height="9" fill="#f7c065"/><rect x="1185.6" y="3383" width="79.4" height="67" fill="#f0ad55"/><rect x="1185.6" y="3383" width="79.4" height="9" fill="#f7c065"/><path d="M1292,3393 Q1250,3360 1256,3330 Q1290,3335 1300,3375Z" fill="#184e2c"/><path d="M1305,3393 Q1300,3340 1323,3305 Q1345,3345 1320,3393Z" fill="#1a5530"/><path d="M1320,3393 Q1350,3360 1366,3335 Q1370,3380 1330,3395Z" fill="#184e2c"/><polygon points="1273.0,3394.0 1346.7,3394.0 1340.0,3450.0 1280.0,3450.0" fill="#f5b75a" /><rect x="1271" y="3394" width="78" height="8" fill="#eea448"/></g>
<g filter="url(#sh)"><rect x="1736" y="3115.2" width="214.4" height="195.4" fill="#c8d4e6"/><rect x="1741" y="3120" width="97" height="87.7" fill="#eef5fa"/><rect x="1847.8" y="3120" width="97.6" height="87.7" fill="#eef5fa"/><rect x="1741" y="3215.6" width="97" height="90" fill="#eef5fa"/><rect x="1847.8" y="3215.6" width="97.6" height="90" fill="#eef5fa"/><rect x="1546" y="3140" width="29" height="11.3" fill="#c5cde0"/><rect x="1669.5" y="3135.5" width="28.5" height="11.5" fill="#c5cde0"/><rect x="1520.6" y="3165" width="29.4" height="11" fill="#c5cde0"/><rect x="1514" y="3337" width="29.7" height="11.7" fill="#c5cde0"/><rect x="1649" y="3327.4" width="21" height="8.6" fill="#c5cde0"/><rect x="1634.6" y="3176" width="209" height="100" rx="12" fill="#f2ae3f"/><rect x="1647" y="3191" width="87" height="60" rx="8" fill="#f6bd4f"/><rect x="1740" y="3191" width="92" height="60" rx="8" fill="#f6bd4f"/><rect x="1663" y="3197" width="32" height="48" fill="#b38050"/><rect x="1695" y="3200" width="16" height="45" fill="#a06f44"/><rect x="1682" y="3177" width="33" height="22" fill="#b38050"/><path d="M1740,3217 h26 l-4,20 h-18z" fill="#b84a10"/><path d="M1753,3215 l-8,-14 M1753,3215 l2,-17 M1753,3215 l9,-12" stroke="#2fa38a" stroke-width="3"/><g transform="rotate(-38 1811 3220)"><rect x="1781" y="3203" width="62" height="34" fill="#b38050"/></g><rect x="1644" y="3245" width="94" height="22" rx="6" fill="#f9cd6a"/><rect x="1739" y="3245" width="92" height="23" rx="6" fill="#f9cd6a"/><rect x="1642.5" y="3264.7" width="190" height="41.3" fill="#e9a63a"/><rect x="1601.4" y="3202" width="41" height="102" rx="20" fill="#f5b845"/><ellipse cx="1620" cy="3240" rx="11" ry="24" fill="#d99a3a"/><rect x="1831" y="3207.7" width="42.8" height="99.8" rx="20" fill="#f5b845"/><ellipse cx="1852" cy="3246" rx="11" ry="24" fill="#d99a3a"/><rect x="1645.7" y="3353.4" width="83.9" height="54" fill="#b88050"/><rect x="1682" y="3353.4" width="47.6" height="54" fill="#a87445"/><rect x="1645.7" y="3407.3" width="83.9" height="27" fill="#c5ccd9"/><rect x="1685.3" y="3329.6" width="33.3" height="25" fill="#b88050"/><rect x="1746.4" y="3330.6" width="74.2" height="76.7" fill="#a87445"/><rect x="1746.4" y="3330.6" width="28" height="76.7" fill="#b88050"/><rect x="1746.4" y="3407.3" width="74.2" height="27" fill="#c5ccd9"/><rect x="1757" y="3331" width="5" height="22" fill="#e8d27a"/><rect x="1661" y="3354" width="5" height="14" fill="#e8d27a"/><rect x="1693" y="3330" width="4" height="10" fill="#e8d27a"/><circle cx="1566" cy="3206" r="11" fill="#c98a55"/><path d="M1552,3200 q14,-18 28,-2z" fill="#1d2a6a"/><rect x="1575" y="3198" width="8" height="3" fill="#1d2a6a"/><polygon points="1550.0,3222.0 1580.0,3218.0 1600.0,3300.0 1562.0,3310.0" fill="#2aa6ee" /><path d="M1570,3240 L1600,3300" stroke="#1e8fdc" stroke-width="12" stroke-linecap="round"/><polygon points="1562.0,3308.0 1600.0,3300.0 1620.0,3430.0 1606.0,3432.0 1580.0,3350.0 1545.0,3430.0 1530.0,3425.0" fill="#1c2f8a" /><path d="M1525,3432 h16 M1603,3436 h18" stroke="#c9d1e6" stroke-width="4"/><circle cx="1917" cy="3225" r="11" fill="#f0b090"/><path d="M1905,3218 q12,-18 26,-2 h6z" fill="#1d2a6a"/><path d="M1906,3224 q-10,10 -12,20" stroke="#b03a6a" stroke-width="5" fill="none"/><polygon points="1897.0,3240.0 1925.0,3238.0 1930.0,3310.0 1892.0,3312.0" fill="#2aa6ee" /><path d="M1900,3255 L1868,3305" stroke="#1e8fdc" stroke-width="11" stroke-linecap="round"/><polygon points="1892.0,3310.0 1930.0,3310.0 1948.0,3430.0 1935.0,3432.0 1910.0,3350.0 1870.0,3430.0 1856.0,3425.0" fill="#1c2f8a" /><path d="M1852,3432 h16 M1932,3436 h18" stroke="#c9d1e6" stroke-width="4"/></g>
</svg>
<svg class="a" style="left:0;top:0;pointer-events:none" width="2129" height="3600" viewBox="0 0 2129 3600"><defs>
<clipPath id="wc0"><rect x="138" y="576" width="1947" height="1428" rx="90"/></clipPath>
<clipPath id="wc1"><rect x="135" y="2346" width="1947" height="404" rx="28"/></clipPath>
<clipPath id="wc2"><rect x="131.5" y="3151" width="1950.5" height="413" rx="28"/></clipPath>
</defs>
<g clip-path="url(#wc0)" fill="#ffffff" fill-opacity="0.1" font-family="Liberation Sans" font-weight="bold" font-style="italic" font-size="600"><text x="0" y="0" transform="translate(100.0,1965) scale(1.0,1)">O</text><text x="0" y="0" transform="translate(630.0,1965) scale(1.0,1)">n</text><text x="0" y="0" transform="translate(949.0,1965) scale(1.0,1)">t</text><text x="0" y="0" transform="translate(1225.0,1965) scale(1.0,1)">i</text><text x="0" y="0" transform="translate(1416.6,1965) scale(0.84,1)">m</text><text x="0" y="0" transform="translate(1751.3,1965) scale(1.04,1)">e</text></g>
<g clip-path="url(#wc1)" fill="#ffffff" fill-opacity="0.1" font-family="Liberation Sans" font-weight="bold" font-style="italic" font-size="600"><text x="0" y="0" transform="translate(170.0,2745) scale(1.0,1)">O</text><text x="0" y="0" transform="translate(510.0,2745) scale(1.0,1)">n</text><text x="0" y="0" transform="translate(837.0,2745) scale(1.0,1)">t</text><text x="0" y="0" transform="translate(1130.0,2745) scale(1.0,1)">i</text><text x="0" y="0" transform="translate(1331.6,2745) scale(0.84,1)">m</text><text x="0" y="0" transform="translate(1682.0,2745) scale(1.0,1)">e</text></g>
<g clip-path="url(#wc2)" fill="#ffffff" fill-opacity="0.1" font-family="Liberation Sans" font-weight="bold" font-style="italic" font-size="600"><text x="0" y="0" transform="translate(160.0,3560) scale(1.0,1)">O</text><text x="0" y="0" transform="translate(565.0,3560) scale(1.0,1)">n</text><text x="0" y="0" transform="translate(892.0,3560) scale(1.0,1)">t</text><text x="0" y="0" transform="translate(1185.0,3560) scale(1.0,1)">i</text><text x="0" y="0" transform="translate(1386.6,3560) scale(0.84,1)">m</text><text x="0" y="0" transform="translate(1737.0,3560) scale(1.0,1)">e</text></g>
<circle cx="2017" cy="2428" r="38" fill="none" stroke="#ffffff" stroke-opacity="0.1" stroke-width="7"/>
<text x="2017" y="2443" text-anchor="middle" font-family="Liberation Sans" font-size="44" fill="#ffffff" fill-opacity="0.1">R</text>
<circle cx="2041" cy="3238" r="38" fill="none" stroke="#ffffff" stroke-opacity="0.1" stroke-width="7"/>
<text x="2041" y="3253" text-anchor="middle" font-family="Liberation Sans" font-size="44" fill="#ffffff" fill-opacity="0.1">R</text>
<circle cx="2090" cy="1640" r="34" fill="none" stroke="#ffffff" stroke-opacity="0.1" stroke-width="7"/>
<text x="2090" y="1655" text-anchor="middle" font-family="Liberation Sans" font-size="44" fill="#ffffff" fill-opacity="0.1">R</text>
</svg><div class="t" style="left:466.3px;top:168.1px;font-size:167px;color:#1a3b8a;transform:scaleX(0.8839);">XS</div>
<div class="t" style="left:451.7px;top:2215.5px;font-size:167px;color:#1a3b8a;transform:scaleX(0.9089);">XP</div>
<div class="t" style="left:681.2px;top:3010.1px;font-size:167px;color:#1a3b8a;transform:scaleX(0.9139);">XL</div>
<div class="t" style="left:143.6px;top:373.7px;font-size:46px;color:#1b3a8a;transform:scaleX(0.9160);">MERCANCÍA ENCINTABLE</div>
<div class="t" style="left:154.1px;top:685.6px;font-size:46px;color:#1b3a8a;transform:scaleX(0.9160);">MERCANCÍA NO ENCINTABLE</div>
<div class="t" style="left:169.5px;top:1353.8px;font-size:46px;color:#1b3a8a;transform:scaleX(0.8977);">MERCANCÍA IRREGULAR*</div>
<div class="t w" style="left:736.6px;top:316.1px;font-size:35.7px;color:#fff;">Bultos que entran en el proceso de clasificación automatizado evitando</div>
<div class="t w" style="left:738.1px;top:358.6px;font-size:35.7px;color:#fff;">cualquier clasificación manual. Realizan la clasificación en</div>
<div class="t w" style="left:738.1px;top:401.1px;font-size:35.7px;color:#fff;">destino así como un control del bulto con trazabilidad de</div>
<div class="t w" style="left:739.0px;top:443.6px;font-size:35.7px;color:#fff;">tránsito. Primera línea de prioridad por tipo de mercancía.</div>
<div class="t w" style="left:796.8px;top:646.3px;font-size:35.5px;color:#fff;">Bultos que por sus características no pueden ser puestos en las cintas con</div>
<div class="t w" style="left:798.5px;top:688.4px;font-size:35.5px;color:#fff;">sistemas de clasificación automatizada. Segunda línea de prioridad por tipo</div>
<div class="t w" style="left:798.2px;top:730.5px;font-size:35.5px;color:#fff;">de mercancía.</div>
<div class="t w" style="left:796.8px;top:1320.4px;font-size:39.3px;color:#fff;">*Dentro de la mercancía no encintable, podemos encontrar</div>
<div class="t w" style="left:794.8px;top:1367.4px;font-size:39.3px;color:#fff;">mercancía irregular. Requieren un control extra y podrían tener una</div>
<div class="t w" style="left:795.8px;top:1414.4px;font-size:39.3px;color:#fff;">demora en el tránsito de+1D.</div>
<div class="t w" style="left:166.9px;top:1102.3px;font-size:33.8px;color:#fff;">De + 30 kg</div>
<div class="t w" style="left:427.5px;top:1065.3px;font-size:39.5px;color:#fff;">Con embalaje de</div>
<div class="t w" style="left:426.9px;top:1112.3px;font-size:39.5px;color:#fff;">madera, metálico,</div>
<div class="t w" style="left:428.9px;top:1159.3px;font-size:39.5px;color:#fff;">tela, y plástico</div>
<div class="t w" style="left:426.9px;top:1206.3px;font-size:39.5px;color:#fff;">blando de + 2 Kg</div>
<div class="t w" style="left:782.0px;top:1083.8px;font-size:39.5px;color:#fff;">Con embalaje</div>
<div class="t w" style="left:781.4px;top:1131.3px;font-size:39.5px;color:#fff;">insuficiente</div>
<div class="t w" style="left:1072.8px;top:1082.3px;font-size:39.5px;color:#fff;">Etiqueta ilegible</div>
<div class="t w" style="left:1392.3px;top:1095.3px;font-size:39.5px;color:#fff;">No rectangulares</div>
<div class="t w" style="left:1393.9px;top:1143.3px;font-size:39.5px;color:#fff;">o con salientes</div>
<div class="t w" style="left:1393.9px;top:1190.3px;font-size:39.5px;color:#fff;">del embalaje</div>
<div class="t w" style="left:1741.0px;top:1016.7px;font-size:39.5px;color:#fff;">Que excedan</div>
<div class="t w" style="left:1741.2px;top:1064.5px;font-size:39.5px;color:#fff;">alguna de las</div>
<div class="t w" style="left:1741.6px;top:1112.3px;font-size:39.5px;color:#fff;">siguientes</div>
<div class="t w" style="left:1740.2px;top:1160.0px;font-size:39.5px;color:#fff;">medidas 120cm *</div>
<div class="t w" style="left:1740.8px;top:1207.8px;font-size:39.5px;color:#fff;">60cm * 60cm</div>
<div class="t w" style="left:185.5px;top:1740.3px;font-size:39.5px;color:#fff;">Cualquiera de las tres</div>
<div class="t w" style="left:184.9px;top:1788.3px;font-size:39.5px;color:#fff;">medidas supere los 240cm o</div>
<div class="t w" style="left:184.9px;top:1835.3px;font-size:39.5px;color:#fff;">la suma de los tres lados</div>
<div class="t w" style="left:186.3px;top:1883.8px;font-size:39.5px;color:#fff;">supere los 300cm.</div>
<div class="t w" style="left:739.8px;top:1785.0px;font-size:39.5px;color:#fff;">No rectangulares</div>
<div class="t w" style="left:741.4px;top:1832.3px;font-size:39.5px;color:#fff;">con un diámetro</div>
<div class="t w" style="left:741.8px;top:1880.3px;font-size:39.5px;color:#fff;">superior a 40cm</div>
<div class="t w" style="left:1095.8px;top:1739.7px;font-size:39.5px;color:#fff;">Mercancía con</div>
<div class="t w" style="left:1097.4px;top:1787.1px;font-size:39.5px;color:#fff;">embalaje</div>
<div class="t w" style="left:1096.4px;top:1835.2px;font-size:39.5px;color:#fff;">insuficiente y que</div>
<div class="t w" style="left:1097.4px;top:1883.3px;font-size:39.5px;color:#fff;">contengan líquido</div>
<div class="t w" style="left:1097.4px;top:1930.6px;font-size:39.5px;color:#fff;">en su interior.</div>
<div class="t w" style="left:1470.5px;top:1784.3px;font-size:39.5px;color:#fff;">Mercancía</div>
<div class="t w" style="left:1471.1px;top:1833.0px;font-size:39.5px;color:#fff;">paletizada</div>
<div class="t w" style="left:1716.5px;top:1739.7px;font-size:39.5px;color:#fff;">Envíos de más de</div>
<div class="t w" style="left:1717.7px;top:1787.1px;font-size:39.5px;color:#fff;">2 kilos sin indicar</div>
<div class="t w" style="left:1717.1px;top:1835.2px;font-size:39.5px;color:#fff;">peso y medidas, o</div>
<div class="t w" style="left:1718.1px;top:1883.3px;font-size:39.5px;color:#fff;">que las indicadas</div>
<div class="t w" style="left:1717.1px;top:1930.6px;font-size:39.5px;color:#fff;">no sean reales.</div>
<div class="t w" style="left:241.5px;top:2636.3px;font-size:39.5px;color:#fff;">Palet Express</div>
<div class="t w" style="left:596.6px;top:2636.3px;font-size:39.5px;color:#fff;">Palet Economy</div>
<div class="t w" style="left:1006.3px;top:2623.0px;font-size:39.5px;color:#fff;">Paquetería</div>
<div class="t w" style="left:1006.9px;top:2670.3px;font-size:39.5px;color:#fff;">industrial</div>
<div class="t w" style="left:1397.8px;top:2631.9px;font-size:39.5px;color:#fff;">Neumático</div>
<div class="t w" style="left:1801.8px;top:2633.3px;font-size:39.5px;color:#fff;">Planchas</div>
<div class="t w" style="left:192.7px;top:3504.3px;font-size:39.5px;color:#fff;">Mercancía voluminosa B2C</div>
<div class="t w" style="left:835.4px;top:3498.1px;font-size:39.5px;color:#fff;">XL Servicio a pie de calle</div>
<div class="t w" style="left:1479.0px;top:3498.1px;font-size:39.5px;color:#fff;">XL Servicio entrega a domicilio</div></body></html>
